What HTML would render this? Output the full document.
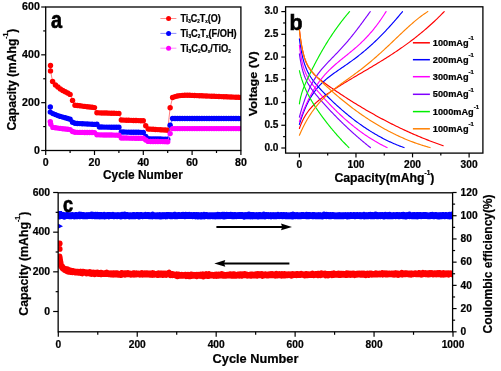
<!DOCTYPE html>
<html><head><meta charset="utf-8"><style>
html,body{margin:0;padding:0;background:#fff;}
svg{display:block;will-change:transform;}
text{font-family:"Liberation Sans",sans-serif;font-weight:bold;fill:#000;stroke:#000;stroke-width:0.22px;}
</style></head><body>
<svg width="501" height="371" viewBox="0 0 501 371">
<rect width="501" height="371" fill="#fff"/>
<line x1="41.2" y1="150.5" x2="45.7" y2="150.5" stroke="#000" stroke-width="1.2"/>
<text x="39.8" y="153.8" font-size="10.6" text-anchor="end" >0</text>
<line x1="43.2" y1="126.58" x2="45.7" y2="126.58" stroke="#000" stroke-width="1.2"/>
<line x1="41.2" y1="102.67" x2="45.7" y2="102.67" stroke="#000" stroke-width="1.2"/>
<text x="39.8" y="105.97" font-size="10.6" text-anchor="end" >200</text>
<line x1="43.2" y1="78.75" x2="45.7" y2="78.75" stroke="#000" stroke-width="1.2"/>
<line x1="41.2" y1="54.83" x2="45.7" y2="54.83" stroke="#000" stroke-width="1.2"/>
<text x="39.8" y="58.13" font-size="10.6" text-anchor="end" >400</text>
<line x1="43.2" y1="30.92" x2="45.7" y2="30.92" stroke="#000" stroke-width="1.2"/>
<line x1="41.2" y1="7" x2="45.7" y2="7" stroke="#000" stroke-width="1.2"/>
<text x="39.8" y="10.3" font-size="10.6" text-anchor="end" >600</text>
<line x1="45.7" y1="150.5" x2="45.7" y2="155" stroke="#000" stroke-width="1.2"/>
<text x="45.7" y="166.2" font-size="10.6" text-anchor="middle" >0</text>
<line x1="70.1" y1="150.5" x2="70.1" y2="153" stroke="#000" stroke-width="1.2"/>
<line x1="94.5" y1="150.5" x2="94.5" y2="155" stroke="#000" stroke-width="1.2"/>
<text x="94.5" y="166.2" font-size="10.6" text-anchor="middle" >20</text>
<line x1="118.9" y1="150.5" x2="118.9" y2="153" stroke="#000" stroke-width="1.2"/>
<line x1="143.3" y1="150.5" x2="143.3" y2="155" stroke="#000" stroke-width="1.2"/>
<text x="143.3" y="166.2" font-size="10.6" text-anchor="middle" >40</text>
<line x1="167.7" y1="150.5" x2="167.7" y2="153" stroke="#000" stroke-width="1.2"/>
<line x1="192.1" y1="150.5" x2="192.1" y2="155" stroke="#000" stroke-width="1.2"/>
<text x="192.1" y="166.2" font-size="10.6" text-anchor="middle" >60</text>
<line x1="216.5" y1="150.5" x2="216.5" y2="153" stroke="#000" stroke-width="1.2"/>
<line x1="240.9" y1="150.5" x2="240.9" y2="155" stroke="#000" stroke-width="1.2"/>
<text x="240.9" y="166.2" font-size="10.6" text-anchor="middle" >80</text>
<text x="142.9" y="179.4" font-size="12.2" text-anchor="middle" textLength="79.8" lengthAdjust="spacingAndGlyphs" >Cycle Number</text>
<text transform="translate(16.3,130.6) rotate(-90)" font-size="12" textLength="102" lengthAdjust="spacingAndGlyphs">Capacity (mAhg<tspan font-size="6.8" dy="-8">-1</tspan><tspan dy="8">)</tspan></text>
<text transform="translate(51.0,27.5) scale(0.81,0.95)" font-size="24.5" style="stroke-width:0.7px">a</text>
<defs><clipPath id="ca"><rect x="45.7" y="7" width="195.2" height="143.5"/></clipPath></defs><g clip-path="url(#ca)">
<polyline points="50.5,65.5 50.5,70.9 52.6,81.5 55.46,85 57.9,87 60.34,89 62.78,90.5 65.22,91.8 67.66,93 70.1,94.4 72.54,100.4 74.98,105.2 77.42,105.5 79.86,105.8 82.3,106.1 84.74,106.4 87.18,106.7 89.62,107 92.06,107.3 94.5,107.6 96.94,112.8 99.38,112.87 101.82,112.93 104.26,113 106.7,113.07 109.14,113.13 111.58,113.2 114.02,113.27 116.46,113.33 118.9,113.4 121.34,120 123.78,120.09 126.22,120.18 128.66,120.27 131.1,120.36 133.54,120.44 135.98,120.53 138.42,120.62 140.86,120.71 143.3,120.8 145.74,125.8 148.18,129 150.62,129.15 153.06,129.3 155.5,129.45 157.94,129.6 160.38,129.75 162.82,129.9 165.26,130.05 167.7,130.2 170.14,107.7 172.58,97.5 175.02,96.6 177.46,96 179.9,95.6 182.34,95.4 184.78,95.3 187.22,95.3 189.66,95.3 192.1,95.4 194.54,95.5 196.98,95.6 199.42,95.7 201.86,95.8 204.3,95.9 206.74,96 209.18,96.1 211.62,96.2 214.06,96.3 216.5,96.4 218.94,96.5 221.38,96.6 223.82,96.7 226.26,96.8 228.7,96.9 231.14,97 233.58,97.1 236.02,97.2 238.46,97.3 240.9,97.4" fill="none" stroke="#ff6060" stroke-width="0.8" stroke-linejoin="round" stroke-linecap="round" />
<circle cx="50.5" cy="65.5" r="2.7" fill="#ff0000"/>
<circle cx="50.5" cy="70.9" r="2.7" fill="#ff0000"/>
<circle cx="52.6" cy="81.5" r="2.7" fill="#ff0000"/>
<circle cx="55.46" cy="85" r="2.7" fill="#ff0000"/>
<circle cx="57.9" cy="87" r="2.7" fill="#ff0000"/>
<circle cx="60.34" cy="89" r="2.7" fill="#ff0000"/>
<circle cx="62.78" cy="90.5" r="2.7" fill="#ff0000"/>
<circle cx="65.22" cy="91.8" r="2.7" fill="#ff0000"/>
<circle cx="67.66" cy="93" r="2.7" fill="#ff0000"/>
<circle cx="70.1" cy="94.4" r="2.7" fill="#ff0000"/>
<circle cx="72.54" cy="100.4" r="2.7" fill="#ff0000"/>
<circle cx="74.98" cy="105.2" r="2.7" fill="#ff0000"/>
<circle cx="77.42" cy="105.5" r="2.7" fill="#ff0000"/>
<circle cx="79.86" cy="105.8" r="2.7" fill="#ff0000"/>
<circle cx="82.3" cy="106.1" r="2.7" fill="#ff0000"/>
<circle cx="84.74" cy="106.4" r="2.7" fill="#ff0000"/>
<circle cx="87.18" cy="106.7" r="2.7" fill="#ff0000"/>
<circle cx="89.62" cy="107" r="2.7" fill="#ff0000"/>
<circle cx="92.06" cy="107.3" r="2.7" fill="#ff0000"/>
<circle cx="94.5" cy="107.6" r="2.7" fill="#ff0000"/>
<circle cx="96.94" cy="112.8" r="2.7" fill="#ff0000"/>
<circle cx="99.38" cy="112.87" r="2.7" fill="#ff0000"/>
<circle cx="101.82" cy="112.93" r="2.7" fill="#ff0000"/>
<circle cx="104.26" cy="113" r="2.7" fill="#ff0000"/>
<circle cx="106.7" cy="113.07" r="2.7" fill="#ff0000"/>
<circle cx="109.14" cy="113.13" r="2.7" fill="#ff0000"/>
<circle cx="111.58" cy="113.2" r="2.7" fill="#ff0000"/>
<circle cx="114.02" cy="113.27" r="2.7" fill="#ff0000"/>
<circle cx="116.46" cy="113.33" r="2.7" fill="#ff0000"/>
<circle cx="118.9" cy="113.4" r="2.7" fill="#ff0000"/>
<circle cx="121.34" cy="120" r="2.7" fill="#ff0000"/>
<circle cx="123.78" cy="120.09" r="2.7" fill="#ff0000"/>
<circle cx="126.22" cy="120.18" r="2.7" fill="#ff0000"/>
<circle cx="128.66" cy="120.27" r="2.7" fill="#ff0000"/>
<circle cx="131.1" cy="120.36" r="2.7" fill="#ff0000"/>
<circle cx="133.54" cy="120.44" r="2.7" fill="#ff0000"/>
<circle cx="135.98" cy="120.53" r="2.7" fill="#ff0000"/>
<circle cx="138.42" cy="120.62" r="2.7" fill="#ff0000"/>
<circle cx="140.86" cy="120.71" r="2.7" fill="#ff0000"/>
<circle cx="143.3" cy="120.8" r="2.7" fill="#ff0000"/>
<circle cx="145.74" cy="125.8" r="2.7" fill="#ff0000"/>
<circle cx="148.18" cy="129" r="2.7" fill="#ff0000"/>
<circle cx="150.62" cy="129.15" r="2.7" fill="#ff0000"/>
<circle cx="153.06" cy="129.3" r="2.7" fill="#ff0000"/>
<circle cx="155.5" cy="129.45" r="2.7" fill="#ff0000"/>
<circle cx="157.94" cy="129.6" r="2.7" fill="#ff0000"/>
<circle cx="160.38" cy="129.75" r="2.7" fill="#ff0000"/>
<circle cx="162.82" cy="129.9" r="2.7" fill="#ff0000"/>
<circle cx="165.26" cy="130.05" r="2.7" fill="#ff0000"/>
<circle cx="167.7" cy="130.2" r="2.7" fill="#ff0000"/>
<circle cx="170.14" cy="107.7" r="2.7" fill="#ff0000"/>
<circle cx="172.58" cy="97.5" r="2.7" fill="#ff0000"/>
<circle cx="175.02" cy="96.6" r="2.7" fill="#ff0000"/>
<circle cx="177.46" cy="96" r="2.7" fill="#ff0000"/>
<circle cx="179.9" cy="95.6" r="2.7" fill="#ff0000"/>
<circle cx="182.34" cy="95.4" r="2.7" fill="#ff0000"/>
<circle cx="184.78" cy="95.3" r="2.7" fill="#ff0000"/>
<circle cx="187.22" cy="95.3" r="2.7" fill="#ff0000"/>
<circle cx="189.66" cy="95.3" r="2.7" fill="#ff0000"/>
<circle cx="192.1" cy="95.4" r="2.7" fill="#ff0000"/>
<circle cx="194.54" cy="95.5" r="2.7" fill="#ff0000"/>
<circle cx="196.98" cy="95.6" r="2.7" fill="#ff0000"/>
<circle cx="199.42" cy="95.7" r="2.7" fill="#ff0000"/>
<circle cx="201.86" cy="95.8" r="2.7" fill="#ff0000"/>
<circle cx="204.3" cy="95.9" r="2.7" fill="#ff0000"/>
<circle cx="206.74" cy="96" r="2.7" fill="#ff0000"/>
<circle cx="209.18" cy="96.1" r="2.7" fill="#ff0000"/>
<circle cx="211.62" cy="96.2" r="2.7" fill="#ff0000"/>
<circle cx="214.06" cy="96.3" r="2.7" fill="#ff0000"/>
<circle cx="216.5" cy="96.4" r="2.7" fill="#ff0000"/>
<circle cx="218.94" cy="96.5" r="2.7" fill="#ff0000"/>
<circle cx="221.38" cy="96.6" r="2.7" fill="#ff0000"/>
<circle cx="223.82" cy="96.7" r="2.7" fill="#ff0000"/>
<circle cx="226.26" cy="96.8" r="2.7" fill="#ff0000"/>
<circle cx="228.7" cy="96.9" r="2.7" fill="#ff0000"/>
<circle cx="231.14" cy="97" r="2.7" fill="#ff0000"/>
<circle cx="233.58" cy="97.1" r="2.7" fill="#ff0000"/>
<circle cx="236.02" cy="97.2" r="2.7" fill="#ff0000"/>
<circle cx="238.46" cy="97.3" r="2.7" fill="#ff0000"/>
<circle cx="240.9" cy="97.4" r="2.7" fill="#ff0000"/>
<polyline points="50.3,107 50.3,112.1 52.9,113.6 55.46,114.6 57.9,115.6 60.34,116.4 62.78,117.1 65.22,117.8 67.66,118.5 70.1,119.2 72.54,122.3 74.98,123.3 77.42,123.44 79.86,123.58 82.3,123.71 84.74,123.85 87.18,123.99 89.62,124.12 92.06,124.26 94.5,124.4 96.94,124.3 99.38,127 101.82,127.04 104.26,127.08 106.7,127.11 109.14,127.15 111.58,127.19 114.02,127.22 116.46,127.26 118.9,127.3 121.34,132 123.78,132.04 126.22,132.09 128.66,132.13 131.1,132.18 133.54,132.22 135.98,132.27 138.42,132.31 140.86,132.36 143.3,132.4 145.74,136.5 148.18,138.8 150.62,138.85 153.06,138.9 155.5,138.95 157.94,139 160.38,139.05 162.82,139.1 165.26,139.15 167.7,139.2 170.14,125.3 172.58,118.5 175.02,118.5 177.46,118.5 179.9,118.5 182.34,118.5 184.78,118.5 187.22,118.5 189.66,118.5 192.1,118.5 194.54,118.5 196.98,118.5 199.42,118.5 201.86,118.5 204.3,118.5 206.74,118.5 209.18,118.5 211.62,118.5 214.06,118.5 216.5,118.5 218.94,118.5 221.38,118.5 223.82,118.5 226.26,118.5 228.7,118.5 231.14,118.5 233.58,118.5 236.02,118.5 238.46,118.5 240.9,118.5" fill="none" stroke="#6060ff" stroke-width="0.8" stroke-linejoin="round" stroke-linecap="round" />
<circle cx="50.3" cy="107" r="2.7" fill="#0000ff"/>
<circle cx="50.3" cy="112.1" r="2.7" fill="#0000ff"/>
<circle cx="52.9" cy="113.6" r="2.7" fill="#0000ff"/>
<circle cx="55.46" cy="114.6" r="2.7" fill="#0000ff"/>
<circle cx="57.9" cy="115.6" r="2.7" fill="#0000ff"/>
<circle cx="60.34" cy="116.4" r="2.7" fill="#0000ff"/>
<circle cx="62.78" cy="117.1" r="2.7" fill="#0000ff"/>
<circle cx="65.22" cy="117.8" r="2.7" fill="#0000ff"/>
<circle cx="67.66" cy="118.5" r="2.7" fill="#0000ff"/>
<circle cx="70.1" cy="119.2" r="2.7" fill="#0000ff"/>
<circle cx="72.54" cy="122.3" r="2.7" fill="#0000ff"/>
<circle cx="74.98" cy="123.3" r="2.7" fill="#0000ff"/>
<circle cx="77.42" cy="123.44" r="2.7" fill="#0000ff"/>
<circle cx="79.86" cy="123.58" r="2.7" fill="#0000ff"/>
<circle cx="82.3" cy="123.71" r="2.7" fill="#0000ff"/>
<circle cx="84.74" cy="123.85" r="2.7" fill="#0000ff"/>
<circle cx="87.18" cy="123.99" r="2.7" fill="#0000ff"/>
<circle cx="89.62" cy="124.12" r="2.7" fill="#0000ff"/>
<circle cx="92.06" cy="124.26" r="2.7" fill="#0000ff"/>
<circle cx="94.5" cy="124.4" r="2.7" fill="#0000ff"/>
<circle cx="96.94" cy="124.3" r="2.7" fill="#0000ff"/>
<circle cx="99.38" cy="127" r="2.7" fill="#0000ff"/>
<circle cx="101.82" cy="127.04" r="2.7" fill="#0000ff"/>
<circle cx="104.26" cy="127.08" r="2.7" fill="#0000ff"/>
<circle cx="106.7" cy="127.11" r="2.7" fill="#0000ff"/>
<circle cx="109.14" cy="127.15" r="2.7" fill="#0000ff"/>
<circle cx="111.58" cy="127.19" r="2.7" fill="#0000ff"/>
<circle cx="114.02" cy="127.22" r="2.7" fill="#0000ff"/>
<circle cx="116.46" cy="127.26" r="2.7" fill="#0000ff"/>
<circle cx="118.9" cy="127.3" r="2.7" fill="#0000ff"/>
<circle cx="121.34" cy="132" r="2.7" fill="#0000ff"/>
<circle cx="123.78" cy="132.04" r="2.7" fill="#0000ff"/>
<circle cx="126.22" cy="132.09" r="2.7" fill="#0000ff"/>
<circle cx="128.66" cy="132.13" r="2.7" fill="#0000ff"/>
<circle cx="131.1" cy="132.18" r="2.7" fill="#0000ff"/>
<circle cx="133.54" cy="132.22" r="2.7" fill="#0000ff"/>
<circle cx="135.98" cy="132.27" r="2.7" fill="#0000ff"/>
<circle cx="138.42" cy="132.31" r="2.7" fill="#0000ff"/>
<circle cx="140.86" cy="132.36" r="2.7" fill="#0000ff"/>
<circle cx="143.3" cy="132.4" r="2.7" fill="#0000ff"/>
<circle cx="145.74" cy="136.5" r="2.7" fill="#0000ff"/>
<circle cx="148.18" cy="138.8" r="2.7" fill="#0000ff"/>
<circle cx="150.62" cy="138.85" r="2.7" fill="#0000ff"/>
<circle cx="153.06" cy="138.9" r="2.7" fill="#0000ff"/>
<circle cx="155.5" cy="138.95" r="2.7" fill="#0000ff"/>
<circle cx="157.94" cy="139" r="2.7" fill="#0000ff"/>
<circle cx="160.38" cy="139.05" r="2.7" fill="#0000ff"/>
<circle cx="162.82" cy="139.1" r="2.7" fill="#0000ff"/>
<circle cx="165.26" cy="139.15" r="2.7" fill="#0000ff"/>
<circle cx="167.7" cy="139.2" r="2.7" fill="#0000ff"/>
<circle cx="170.14" cy="125.3" r="2.7" fill="#0000ff"/>
<circle cx="172.58" cy="118.5" r="2.7" fill="#0000ff"/>
<circle cx="175.02" cy="118.5" r="2.7" fill="#0000ff"/>
<circle cx="177.46" cy="118.5" r="2.7" fill="#0000ff"/>
<circle cx="179.9" cy="118.5" r="2.7" fill="#0000ff"/>
<circle cx="182.34" cy="118.5" r="2.7" fill="#0000ff"/>
<circle cx="184.78" cy="118.5" r="2.7" fill="#0000ff"/>
<circle cx="187.22" cy="118.5" r="2.7" fill="#0000ff"/>
<circle cx="189.66" cy="118.5" r="2.7" fill="#0000ff"/>
<circle cx="192.1" cy="118.5" r="2.7" fill="#0000ff"/>
<circle cx="194.54" cy="118.5" r="2.7" fill="#0000ff"/>
<circle cx="196.98" cy="118.5" r="2.7" fill="#0000ff"/>
<circle cx="199.42" cy="118.5" r="2.7" fill="#0000ff"/>
<circle cx="201.86" cy="118.5" r="2.7" fill="#0000ff"/>
<circle cx="204.3" cy="118.5" r="2.7" fill="#0000ff"/>
<circle cx="206.74" cy="118.5" r="2.7" fill="#0000ff"/>
<circle cx="209.18" cy="118.5" r="2.7" fill="#0000ff"/>
<circle cx="211.62" cy="118.5" r="2.7" fill="#0000ff"/>
<circle cx="214.06" cy="118.5" r="2.7" fill="#0000ff"/>
<circle cx="216.5" cy="118.5" r="2.7" fill="#0000ff"/>
<circle cx="218.94" cy="118.5" r="2.7" fill="#0000ff"/>
<circle cx="221.38" cy="118.5" r="2.7" fill="#0000ff"/>
<circle cx="223.82" cy="118.5" r="2.7" fill="#0000ff"/>
<circle cx="226.26" cy="118.5" r="2.7" fill="#0000ff"/>
<circle cx="228.7" cy="118.5" r="2.7" fill="#0000ff"/>
<circle cx="231.14" cy="118.5" r="2.7" fill="#0000ff"/>
<circle cx="233.58" cy="118.5" r="2.7" fill="#0000ff"/>
<circle cx="236.02" cy="118.5" r="2.7" fill="#0000ff"/>
<circle cx="238.46" cy="118.5" r="2.7" fill="#0000ff"/>
<circle cx="240.9" cy="118.5" r="2.7" fill="#0000ff"/>
<polyline points="50.3,121.6 50.8,124.3 52.9,127.4 55.46,127.8 57.9,128.1 60.34,128.4 62.78,128.7 65.22,129 67.66,129.3 70.1,129.6 72.54,131.5 74.98,132.3 77.42,132.34 79.86,132.38 82.3,132.41 84.74,132.45 87.18,132.49 89.62,132.53 92.06,132.56 94.5,132.6 96.94,134.8 99.38,134.84 101.82,134.89 104.26,134.93 106.7,134.98 109.14,135.02 111.58,135.07 114.02,135.11 116.46,135.16 118.9,135.2 121.34,138 123.78,138.03 126.22,138.07 128.66,138.1 131.1,138.13 133.54,138.17 135.98,138.2 138.42,138.23 140.86,138.27 143.3,138.3 145.74,140 148.18,141.4 150.62,141.44 153.06,141.47 155.5,141.51 157.94,141.55 160.38,141.59 162.82,141.62 165.26,141.66 167.7,141.7 170.14,133.6 172.58,128.6 175.02,128.6 177.46,128.6 179.9,128.6 182.34,128.6 184.78,128.6 187.22,128.6 189.66,128.6 192.1,128.6 194.54,128.6 196.98,128.6 199.42,128.6 201.86,128.6 204.3,128.6 206.74,128.6 209.18,128.6 211.62,128.6 214.06,128.6 216.5,128.6 218.94,128.6 221.38,128.6 223.82,128.6 226.26,128.6 228.7,128.6 231.14,128.6 233.58,128.6 236.02,128.6 238.46,128.6 240.9,128.6" fill="none" stroke="#ff80ff" stroke-width="0.8" stroke-linejoin="round" stroke-linecap="round" />
<circle cx="50.3" cy="121.6" r="2.7" fill="#ff00ff"/>
<circle cx="50.8" cy="124.3" r="2.7" fill="#ff00ff"/>
<circle cx="52.9" cy="127.4" r="2.7" fill="#ff00ff"/>
<circle cx="55.46" cy="127.8" r="2.7" fill="#ff00ff"/>
<circle cx="57.9" cy="128.1" r="2.7" fill="#ff00ff"/>
<circle cx="60.34" cy="128.4" r="2.7" fill="#ff00ff"/>
<circle cx="62.78" cy="128.7" r="2.7" fill="#ff00ff"/>
<circle cx="65.22" cy="129" r="2.7" fill="#ff00ff"/>
<circle cx="67.66" cy="129.3" r="2.7" fill="#ff00ff"/>
<circle cx="70.1" cy="129.6" r="2.7" fill="#ff00ff"/>
<circle cx="72.54" cy="131.5" r="2.7" fill="#ff00ff"/>
<circle cx="74.98" cy="132.3" r="2.7" fill="#ff00ff"/>
<circle cx="77.42" cy="132.34" r="2.7" fill="#ff00ff"/>
<circle cx="79.86" cy="132.38" r="2.7" fill="#ff00ff"/>
<circle cx="82.3" cy="132.41" r="2.7" fill="#ff00ff"/>
<circle cx="84.74" cy="132.45" r="2.7" fill="#ff00ff"/>
<circle cx="87.18" cy="132.49" r="2.7" fill="#ff00ff"/>
<circle cx="89.62" cy="132.53" r="2.7" fill="#ff00ff"/>
<circle cx="92.06" cy="132.56" r="2.7" fill="#ff00ff"/>
<circle cx="94.5" cy="132.6" r="2.7" fill="#ff00ff"/>
<circle cx="96.94" cy="134.8" r="2.7" fill="#ff00ff"/>
<circle cx="99.38" cy="134.84" r="2.7" fill="#ff00ff"/>
<circle cx="101.82" cy="134.89" r="2.7" fill="#ff00ff"/>
<circle cx="104.26" cy="134.93" r="2.7" fill="#ff00ff"/>
<circle cx="106.7" cy="134.98" r="2.7" fill="#ff00ff"/>
<circle cx="109.14" cy="135.02" r="2.7" fill="#ff00ff"/>
<circle cx="111.58" cy="135.07" r="2.7" fill="#ff00ff"/>
<circle cx="114.02" cy="135.11" r="2.7" fill="#ff00ff"/>
<circle cx="116.46" cy="135.16" r="2.7" fill="#ff00ff"/>
<circle cx="118.9" cy="135.2" r="2.7" fill="#ff00ff"/>
<circle cx="121.34" cy="138" r="2.7" fill="#ff00ff"/>
<circle cx="123.78" cy="138.03" r="2.7" fill="#ff00ff"/>
<circle cx="126.22" cy="138.07" r="2.7" fill="#ff00ff"/>
<circle cx="128.66" cy="138.1" r="2.7" fill="#ff00ff"/>
<circle cx="131.1" cy="138.13" r="2.7" fill="#ff00ff"/>
<circle cx="133.54" cy="138.17" r="2.7" fill="#ff00ff"/>
<circle cx="135.98" cy="138.2" r="2.7" fill="#ff00ff"/>
<circle cx="138.42" cy="138.23" r="2.7" fill="#ff00ff"/>
<circle cx="140.86" cy="138.27" r="2.7" fill="#ff00ff"/>
<circle cx="143.3" cy="138.3" r="2.7" fill="#ff00ff"/>
<circle cx="145.74" cy="140" r="2.7" fill="#ff00ff"/>
<circle cx="148.18" cy="141.4" r="2.7" fill="#ff00ff"/>
<circle cx="150.62" cy="141.44" r="2.7" fill="#ff00ff"/>
<circle cx="153.06" cy="141.47" r="2.7" fill="#ff00ff"/>
<circle cx="155.5" cy="141.51" r="2.7" fill="#ff00ff"/>
<circle cx="157.94" cy="141.55" r="2.7" fill="#ff00ff"/>
<circle cx="160.38" cy="141.59" r="2.7" fill="#ff00ff"/>
<circle cx="162.82" cy="141.62" r="2.7" fill="#ff00ff"/>
<circle cx="165.26" cy="141.66" r="2.7" fill="#ff00ff"/>
<circle cx="167.7" cy="141.7" r="2.7" fill="#ff00ff"/>
<circle cx="170.14" cy="133.6" r="2.7" fill="#ff00ff"/>
<circle cx="172.58" cy="128.6" r="2.7" fill="#ff00ff"/>
<circle cx="175.02" cy="128.6" r="2.7" fill="#ff00ff"/>
<circle cx="177.46" cy="128.6" r="2.7" fill="#ff00ff"/>
<circle cx="179.9" cy="128.6" r="2.7" fill="#ff00ff"/>
<circle cx="182.34" cy="128.6" r="2.7" fill="#ff00ff"/>
<circle cx="184.78" cy="128.6" r="2.7" fill="#ff00ff"/>
<circle cx="187.22" cy="128.6" r="2.7" fill="#ff00ff"/>
<circle cx="189.66" cy="128.6" r="2.7" fill="#ff00ff"/>
<circle cx="192.1" cy="128.6" r="2.7" fill="#ff00ff"/>
<circle cx="194.54" cy="128.6" r="2.7" fill="#ff00ff"/>
<circle cx="196.98" cy="128.6" r="2.7" fill="#ff00ff"/>
<circle cx="199.42" cy="128.6" r="2.7" fill="#ff00ff"/>
<circle cx="201.86" cy="128.6" r="2.7" fill="#ff00ff"/>
<circle cx="204.3" cy="128.6" r="2.7" fill="#ff00ff"/>
<circle cx="206.74" cy="128.6" r="2.7" fill="#ff00ff"/>
<circle cx="209.18" cy="128.6" r="2.7" fill="#ff00ff"/>
<circle cx="211.62" cy="128.6" r="2.7" fill="#ff00ff"/>
<circle cx="214.06" cy="128.6" r="2.7" fill="#ff00ff"/>
<circle cx="216.5" cy="128.6" r="2.7" fill="#ff00ff"/>
<circle cx="218.94" cy="128.6" r="2.7" fill="#ff00ff"/>
<circle cx="221.38" cy="128.6" r="2.7" fill="#ff00ff"/>
<circle cx="223.82" cy="128.6" r="2.7" fill="#ff00ff"/>
<circle cx="226.26" cy="128.6" r="2.7" fill="#ff00ff"/>
<circle cx="228.7" cy="128.6" r="2.7" fill="#ff00ff"/>
<circle cx="231.14" cy="128.6" r="2.7" fill="#ff00ff"/>
<circle cx="233.58" cy="128.6" r="2.7" fill="#ff00ff"/>
<circle cx="236.02" cy="128.6" r="2.7" fill="#ff00ff"/>
<circle cx="238.46" cy="128.6" r="2.7" fill="#ff00ff"/>
<circle cx="240.9" cy="128.6" r="2.7" fill="#ff00ff"/>
</g>
<rect x="45.7" y="7.0" width="195.2" height="143.5" fill="none" stroke="#000" stroke-width="1.3"/>
<line x1="160.4" y1="18.5" x2="176.4" y2="18.5" stroke="#ff8080" stroke-width="0.9"/>
<circle cx="168.6" cy="18.5" r="2.5" fill="#ff0000"/>
<text x="180.4" y="22.1" font-size="10" text-anchor="start" textLength="40.5" lengthAdjust="spacingAndGlyphs" >Ti<tspan font-size="5" dy="1.0">3</tspan><tspan dy="-1.0">C</tspan><tspan font-size="5" dy="1.0">2</tspan><tspan dy="-1.0">T</tspan><tspan font-size="5" dy="1.0">x</tspan><tspan dy="-1.0">(O)</tspan></text>
<line x1="160.4" y1="33.4" x2="176.4" y2="33.4" stroke="#8080ff" stroke-width="0.9"/>
<circle cx="168.6" cy="33.4" r="2.5" fill="#0000ff"/>
<text x="180.4" y="37" font-size="10" text-anchor="start" textLength="56.3" lengthAdjust="spacingAndGlyphs" >Ti<tspan font-size="5" dy="1.0">3</tspan><tspan dy="-1.0">C</tspan><tspan font-size="5" dy="1.0">2</tspan><tspan dy="-1.0">T</tspan><tspan font-size="5" dy="1.0">x</tspan><tspan dy="-1.0">(F/OH)</tspan></text>
<line x1="160.4" y1="48.2" x2="176.4" y2="48.2" stroke="#ff80ff" stroke-width="0.9"/>
<circle cx="168.6" cy="48.2" r="2.5" fill="#ff00ff"/>
<text x="180.4" y="51.8" font-size="10" text-anchor="start" textLength="50.5" lengthAdjust="spacingAndGlyphs" >Ti<tspan font-size="5" dy="1.0">3</tspan><tspan dy="-1.0">C</tspan><tspan font-size="5" dy="1.0">2</tspan><tspan dy="-1.0">O</tspan><tspan font-size="5" dy="1.0">x</tspan><tspan dy="-1.0">/TiO</tspan><tspan font-size="5" dy="1.0">2</tspan></text>
<rect x="285.6" y="6.8" width="197.3" height="146.3" fill="none" stroke="#000" stroke-width="1.3"/>
<line x1="281.3" y1="148" x2="285.6" y2="148" stroke="#000" stroke-width="1.2"/>
<text x="278.5" y="150.6" font-size="10.1" text-anchor="end" >0.0</text>
<line x1="283.1" y1="136.63" x2="285.6" y2="136.63" stroke="#000" stroke-width="1.2"/>
<line x1="281.3" y1="125.27" x2="285.6" y2="125.27" stroke="#000" stroke-width="1.2"/>
<text x="278.5" y="127.86" font-size="10.1" text-anchor="end" >0.5</text>
<line x1="283.1" y1="113.9" x2="285.6" y2="113.9" stroke="#000" stroke-width="1.2"/>
<line x1="281.3" y1="102.53" x2="285.6" y2="102.53" stroke="#000" stroke-width="1.2"/>
<text x="278.5" y="105.13" font-size="10.1" text-anchor="end" >1.0</text>
<line x1="283.1" y1="91.16" x2="285.6" y2="91.16" stroke="#000" stroke-width="1.2"/>
<line x1="281.3" y1="79.8" x2="285.6" y2="79.8" stroke="#000" stroke-width="1.2"/>
<text x="278.5" y="82.39" font-size="10.1" text-anchor="end" >1.5</text>
<line x1="283.1" y1="68.43" x2="285.6" y2="68.43" stroke="#000" stroke-width="1.2"/>
<line x1="281.3" y1="57.06" x2="285.6" y2="57.06" stroke="#000" stroke-width="1.2"/>
<text x="278.5" y="59.66" font-size="10.1" text-anchor="end" >2.0</text>
<line x1="283.1" y1="45.69" x2="285.6" y2="45.69" stroke="#000" stroke-width="1.2"/>
<line x1="281.3" y1="34.33" x2="285.6" y2="34.33" stroke="#000" stroke-width="1.2"/>
<text x="278.5" y="36.93" font-size="10.1" text-anchor="end" >2.5</text>
<line x1="283.1" y1="22.96" x2="285.6" y2="22.96" stroke="#000" stroke-width="1.2"/>
<line x1="281.3" y1="11.59" x2="285.6" y2="11.59" stroke="#000" stroke-width="1.2"/>
<text x="278.5" y="14.19" font-size="10.1" text-anchor="end" >3.0</text>
<line x1="299.4" y1="153.1" x2="299.4" y2="157.4" stroke="#000" stroke-width="1.2"/>
<text x="299.4" y="168.4" font-size="10.2" text-anchor="middle" >0</text>
<line x1="327.69" y1="153.1" x2="327.69" y2="155.6" stroke="#000" stroke-width="1.2"/>
<line x1="355.97" y1="153.1" x2="355.97" y2="157.4" stroke="#000" stroke-width="1.2"/>
<text x="355.97" y="168.4" font-size="10.2" text-anchor="middle" >100</text>
<line x1="384.25" y1="153.1" x2="384.25" y2="155.6" stroke="#000" stroke-width="1.2"/>
<line x1="412.54" y1="153.1" x2="412.54" y2="157.4" stroke="#000" stroke-width="1.2"/>
<text x="412.54" y="168.4" font-size="10.2" text-anchor="middle" >200</text>
<line x1="440.82" y1="153.1" x2="440.82" y2="155.6" stroke="#000" stroke-width="1.2"/>
<line x1="469.11" y1="153.1" x2="469.11" y2="157.4" stroke="#000" stroke-width="1.2"/>
<text x="469.11" y="168.4" font-size="10.2" text-anchor="middle" >300</text>
<text x="334.4" y="182.1" font-size="12.6" textLength="100" lengthAdjust="spacingAndGlyphs">Capacity(mAhg<tspan font-size="6.6" dy="-7">-1</tspan><tspan dy="7">)</tspan></text>
<text transform="translate(257.2,116.3) rotate(-90)" font-size="11.8" textLength="65" lengthAdjust="spacingAndGlyphs">Voltage (V)</text>
<text transform="translate(289.5,29.6) scale(0.94,1)" font-size="22.6" style="stroke-width:0.7px">b</text>
<polyline points="299.4,29.78 299.65,31.91 299.9,33.94 300.14,35.86 300.39,37.69 300.64,39.42 300.89,41.07 301.14,42.64 301.38,44.12 301.63,45.54 301.88,46.88 302.13,48.16 302.38,49.38 302.62,50.54 302.87,51.64 303.12,52.7 303.37,53.7 303.61,54.66 303.86,55.58 304.11,56.45 304.36,57.29 304.61,58.09 304.85,58.85 305.1,59.59 305.35,60.29 305.6,60.96 305.85,61.6 306.09,62.22 306.34,62.82 306.59,63.39 307.97,66.21 309.35,68.54 310.73,70.51 312.11,72.21 313.49,73.73 314.87,75.11 316.25,76.38 317.63,77.58 319.01,78.72 320.39,79.82 321.77,80.89 323.15,81.93 324.53,82.96 325.91,83.96 327.29,84.96 328.67,85.94 330.05,86.91 331.43,87.87 332.81,88.83 334.19,89.78 335.57,90.72 336.95,91.65 338.33,92.58 339.71,93.5 341.09,94.42 342.47,95.33 343.85,96.23 345.23,97.13 346.61,98.02 347.99,98.91 349.37,99.79 350.75,100.66 352.13,101.53 353.51,102.39 354.89,103.25 356.27,104.1 357.65,104.94 359.03,105.78 360.41,106.61 361.79,107.44 363.17,108.26 364.55,109.07 365.93,109.88 367.31,110.68 368.69,111.48 370.07,112.27 371.45,113.06 372.83,113.84 374.21,114.61 375.59,115.38 376.97,116.14 378.35,116.89 379.73,117.64 381.11,118.39 382.48,119.12 383.86,119.85 385.24,120.58 386.62,121.3 388,122.01 389.38,122.72 390.76,123.42 392.14,124.12 393.52,124.81 394.9,125.5 396.28,126.17 397.66,126.85 399.04,127.51 400.42,128.17 401.8,128.83 403.18,129.48 404.56,130.12 405.94,130.76 407.32,131.39 408.7,132.01 410.08,132.63 411.46,133.25 412.84,133.85 414.22,134.46 415.6,135.05 416.98,135.64 418.36,136.23 419.74,136.8 421.12,137.38 422.5,137.94 423.88,138.5 425.26,139.06 426.64,139.6 428.02,140.15 429.4,140.68 430.78,141.21 432.16,141.74 433.54,142.26 434.92,142.77 436.3,143.28 437.68,143.78 439.06,144.27 440.44,144.76 441.82,145.25 443.2,145.72" fill="none" stroke="#ff0000" stroke-width="1.15" stroke-linejoin="round" stroke-linecap="round" />
<polyline points="299.4,128.45 299.65,127.74 299.9,127.06 300.15,126.39 300.4,125.74 300.65,125.1 300.9,124.48 301.15,123.88 301.4,123.29 301.65,122.71 301.9,122.15 302.15,121.59 302.4,121.06 302.65,120.53 302.9,120.02 303.15,119.51 303.4,119.02 303.64,118.54 303.89,118.07 304.14,117.61 304.39,117.16 304.64,116.72 304.89,116.28 305.14,115.86 305.39,115.44 305.64,115.04 305.89,114.64 306.14,114.24 306.39,113.86 306.64,113.48 308.03,111.5 309.42,109.69 310.81,108.03 312.2,106.49 313.59,105.06 314.98,103.71 316.37,102.44 317.76,101.22 319.15,100.06 320.54,98.94 321.93,97.86 323.32,96.82 324.71,95.8 326.1,94.8 327.49,93.83 328.88,92.87 330.27,91.93 331.66,91.01 333.04,90.09 334.43,89.19 335.82,88.3 337.21,87.42 338.6,86.55 339.99,85.69 341.38,84.83 342.77,83.97 344.16,83.13 345.55,82.29 346.94,81.45 348.33,80.62 349.72,79.79 351.11,78.96 352.5,78.13 353.89,77.31 355.28,76.49 356.67,75.67 358.06,74.86 359.45,74.04 360.84,73.22 362.23,72.4 363.62,71.59 365.01,70.77 366.4,69.95 367.79,69.13 369.18,68.31 370.57,67.48 371.96,66.65 373.35,65.82 374.74,64.99 376.12,64.15 377.51,63.31 378.9,62.47 380.29,61.62 381.68,60.76 383.07,59.9 384.46,59.04 385.85,58.16 387.24,57.29 388.63,56.4 390.02,55.51 391.41,54.61 392.8,53.7 394.19,52.79 395.58,51.87 396.97,50.93 398.36,49.99 399.75,49.04 401.14,48.08 402.53,47.11 403.92,46.13 405.31,45.14 406.7,44.14 408.09,43.12 409.48,42.09 410.87,41.06 412.26,40.01 413.65,38.94 415.04,37.86 416.43,36.77 417.82,35.67 419.2,34.55 420.59,33.42 421.98,32.27 423.37,31.11 424.76,29.93 426.15,28.73 427.54,27.52 428.93,26.29 430.32,25.05 431.71,23.78 433.1,22.5 434.49,21.21 435.88,19.89 437.27,18.56 438.66,17.2 440.05,15.83 441.44,14.43 442.83,13.02 444.22,11.59" fill="none" stroke="#ff0000" stroke-width="1.15" stroke-linejoin="round" stroke-linecap="round" />
<polyline points="299.4,38.87 299.58,40.23 299.76,41.54 299.94,42.8 300.12,44.02 300.3,45.19 300.48,46.32 300.66,47.42 300.84,48.47 301.02,49.49 301.2,50.48 301.38,51.43 301.57,52.35 301.75,53.24 301.93,54.11 302.11,54.94 302.29,55.75 302.47,56.53 302.65,57.29 302.83,58.02 303.01,58.73 303.19,59.42 303.37,60.09 303.55,60.74 303.73,61.37 303.91,61.99 304.09,62.58 304.27,63.16 304.45,63.73 304.63,64.27 305.64,67.07 306.64,69.52 307.65,71.68 308.65,73.62 309.65,75.38 310.66,77 311.66,78.5 312.67,79.92 313.67,81.26 314.68,82.55 315.68,83.79 316.68,84.99 317.69,86.15 318.69,87.29 319.7,88.41 320.7,89.5 321.71,90.58 322.71,91.64 323.71,92.69 324.72,93.73 325.72,94.75 326.73,95.76 327.73,96.76 328.73,97.75 329.74,98.73 330.74,99.71 331.75,100.67 332.75,101.62 333.76,102.57 334.76,103.5 335.76,104.43 336.77,105.35 337.77,106.26 338.78,107.16 339.78,108.05 340.79,108.93 341.79,109.81 342.79,110.68 343.8,111.53 344.8,112.38 345.81,113.23 346.81,114.06 347.82,114.88 348.82,115.7 349.82,116.51 350.83,117.3 351.83,118.1 352.84,118.88 353.84,119.65 354.85,120.42 355.85,121.17 356.85,121.92 357.86,122.66 358.86,123.39 359.87,124.11 360.87,124.83 361.88,125.53 362.88,126.23 363.88,126.92 364.89,127.6 365.89,128.27 366.9,128.94 367.9,129.59 368.91,130.24 369.91,130.88 370.91,131.51 371.92,132.13 372.92,132.74 373.93,133.35 374.93,133.94 375.94,134.53 376.94,135.11 377.94,135.68 378.95,136.24 379.95,136.79 380.96,137.34 381.96,137.88 382.97,138.4 383.97,138.92 384.97,139.44 385.98,139.94 386.98,140.43 387.99,140.92 388.99,141.4 389.99,141.87 391,142.33 392,142.78 393.01,143.22 394.01,143.66 395.02,144.08 396.02,144.5 397.02,144.91 398.03,145.31 399.03,145.71 400.04,146.09 401.04,146.47 402.05,146.83 403.05,147.19 404.05,147.54" fill="none" stroke="#0000ff" stroke-width="1.15" stroke-linejoin="round" stroke-linecap="round" />
<polyline points="299.4,124.36 299.58,123.77 299.76,123.2 299.93,122.63 300.11,122.06 300.29,121.5 300.47,120.95 300.64,120.41 300.82,119.87 301,119.33 301.18,118.81 301.36,118.28 301.53,117.77 301.71,117.26 301.89,116.75 302.07,116.25 302.24,115.76 302.42,115.27 302.6,114.79 302.78,114.31 302.96,113.83 303.13,113.37 303.31,112.9 303.49,112.45 303.67,111.99 303.85,111.54 304.02,111.1 304.2,110.66 304.38,110.23 304.56,109.8 305.55,107.49 306.54,105.32 307.53,103.27 308.51,101.33 309.5,99.5 310.49,97.77 311.48,96.14 312.47,94.59 313.46,93.12 314.45,91.73 315.44,90.4 316.43,89.14 317.42,87.94 318.41,86.79 319.4,85.7 320.39,84.65 321.38,83.64 322.37,82.67 323.36,81.74 324.35,80.84 325.34,79.96 326.33,79.12 327.32,78.3 328.31,77.5 329.3,76.72 330.29,75.96 331.28,75.22 332.27,74.49 333.25,73.77 334.24,73.06 335.23,72.36 336.22,71.66 337.21,70.97 338.2,70.29 339.19,69.61 340.18,68.93 341.17,68.25 342.16,67.57 343.15,66.9 344.14,66.22 345.13,65.53 346.12,64.85 347.11,64.16 348.1,63.47 349.09,62.77 350.08,62.06 351.07,61.35 352.06,60.64 353.05,59.91 354.04,59.18 355.03,58.44 356.02,57.7 357.01,56.94 357.99,56.18 358.98,55.41 359.97,54.63 360.96,53.83 361.95,53.03 362.94,52.22 363.93,51.4 364.92,50.58 365.91,49.74 366.9,48.89 367.89,48.03 368.88,47.16 369.87,46.27 370.86,45.38 371.85,44.48 372.84,43.57 373.83,42.65 374.82,41.72 375.81,40.77 376.8,39.82 377.79,38.86 378.78,37.88 379.77,36.9 380.76,35.9 381.75,34.9 382.74,33.88 383.72,32.86 384.71,31.82 385.7,30.78 386.69,29.72 387.68,28.66 388.67,27.58 389.66,26.5 390.65,25.41 391.64,24.3 392.63,23.19 393.62,22.07 394.61,20.94 395.6,19.8 396.59,18.65 397.58,17.5 398.57,16.33 399.56,15.16 400.55,13.98 401.54,12.79 402.53,11.59" fill="none" stroke="#0000ff" stroke-width="1.15" stroke-linejoin="round" stroke-linecap="round" />
<polyline points="299.4,45.24 299.55,46.49 299.7,47.69 299.85,48.84 300,49.96 300.16,51.03 300.31,52.06 300.46,53.05 300.61,54.01 300.76,54.93 300.91,55.82 301.06,56.68 301.21,57.5 301.37,58.3 301.52,59.07 301.67,59.82 301.82,60.54 301.97,61.24 302.12,61.91 302.27,62.56 302.42,63.19 302.57,63.8 302.73,64.4 302.88,64.97 303.03,65.53 303.18,66.07 303.33,66.59 303.48,67.1 303.63,67.59 303.78,68.07 304.63,70.53 305.47,72.66 306.31,74.55 307.15,76.24 307.99,77.79 308.83,79.21 309.67,80.55 310.52,81.81 311.36,83.01 312.2,84.17 313.04,85.29 313.88,86.38 314.72,87.44 315.56,88.48 316.41,89.51 317.25,90.52 318.09,91.52 318.93,92.5 319.77,93.47 320.61,94.44 321.45,95.39 322.3,96.34 323.14,97.27 323.98,98.2 324.82,99.13 325.66,100.04 326.5,100.94 327.34,101.84 328.18,102.73 329.03,103.62 329.87,104.5 330.71,105.36 331.55,106.23 332.39,107.08 333.23,107.93 334.07,108.77 334.92,109.61 335.76,110.43 336.6,111.25 337.44,112.07 338.28,112.87 339.12,113.67 339.96,114.46 340.81,115.25 341.65,116.02 342.49,116.79 343.33,117.56 344.17,118.31 345.01,119.06 345.85,119.81 346.7,120.54 347.54,121.27 348.38,121.99 349.22,122.7 350.06,123.41 350.9,124.11 351.74,124.8 352.59,125.49 353.43,126.17 354.27,126.84 355.11,127.51 355.95,128.16 356.79,128.81 357.63,129.46 358.48,130.09 359.32,130.72 360.16,131.35 361,131.96 361.84,132.57 362.68,133.17 363.52,133.77 364.37,134.35 365.21,134.93 366.05,135.51 366.89,136.07 367.73,136.63 368.57,137.18 369.41,137.73 370.26,138.27 371.1,138.8 371.94,139.32 372.78,139.84 373.62,140.35 374.46,140.85 375.3,141.35 376.15,141.83 376.99,142.32 377.83,142.79 378.67,143.26 379.51,143.72 380.35,144.17 381.19,144.62 382.04,145.06 382.88,145.49 383.72,145.91 384.56,146.33 385.4,146.74 386.24,147.15 387.08,147.55" fill="none" stroke="#ff00ff" stroke-width="1.15" stroke-linejoin="round" stroke-linecap="round" />
<polyline points="299.4,121.63 299.55,121.2 299.7,120.77 299.85,120.34 300,119.91 300.15,119.49 300.3,119.07 300.45,118.65 300.6,118.24 300.74,117.83 300.89,117.42 301.04,117.01 301.19,116.6 301.34,116.2 301.49,115.8 301.64,115.4 301.79,115.01 301.94,114.62 302.09,114.22 302.24,113.84 302.39,113.45 302.54,113.07 302.69,112.68 302.84,112.3 302.99,111.93 303.14,111.55 303.28,111.18 303.43,110.81 303.58,110.44 303.73,110.07 304.56,108.08 305.4,106.14 306.23,104.27 307.06,102.46 307.89,100.71 308.72,99.01 309.55,97.37 310.39,95.78 311.22,94.24 312.05,92.75 312.88,91.31 313.71,89.91 314.54,88.56 315.38,87.25 316.21,85.97 317.04,84.74 317.87,83.55 318.7,82.38 319.53,81.26 320.37,80.16 321.2,79.1 322.03,78.07 322.86,77.06 323.69,76.08 324.52,75.13 325.36,74.2 326.19,73.29 327.02,72.41 327.85,71.55 328.68,70.7 329.51,69.88 330.35,69.07 331.18,68.28 332.01,67.5 332.84,66.74 333.67,65.98 334.5,65.25 335.34,64.52 336.17,63.8 337,63.09 337.83,62.39 338.66,61.69 339.49,61 340.33,60.32 341.16,59.64 341.99,58.97 342.82,58.3 343.65,57.63 344.48,56.96 345.32,56.29 346.15,55.62 346.98,54.95 347.81,54.28 348.64,53.61 349.47,52.93 350.3,52.25 351.14,51.56 351.97,50.87 352.8,50.17 353.63,49.47 354.46,48.76 355.29,48.05 356.13,47.32 356.96,46.59 357.79,45.84 358.62,45.09 359.45,44.32 360.28,43.55 361.12,42.76 361.95,41.96 362.78,41.15 363.61,40.33 364.44,39.49 365.27,38.64 366.11,37.77 366.94,36.89 367.77,36 368.6,35.08 369.43,34.16 370.26,33.21 371.1,32.25 371.93,31.27 372.76,30.27 373.59,29.26 374.42,28.22 375.25,27.17 376.09,26.1 376.92,25.01 377.75,23.89 378.58,22.76 379.41,21.61 380.24,20.43 381.08,19.24 381.91,18.02 382.74,16.78 383.57,15.52 384.4,14.23 385.23,12.92 386.07,11.59" fill="none" stroke="#ff00ff" stroke-width="1.15" stroke-linejoin="round" stroke-linecap="round" />
<polyline points="299.4,53.88 299.52,54.72 299.64,55.54 299.77,56.33 299.89,57.11 300.01,57.86 300.13,58.6 300.26,59.31 300.38,60.01 300.5,60.69 300.62,61.35 300.75,62 300.87,62.63 300.99,63.24 301.11,63.84 301.24,64.42 301.36,64.99 301.48,65.55 301.6,66.09 301.73,66.62 301.85,67.14 301.97,67.65 302.09,68.14 302.22,68.62 302.34,69.09 302.46,69.55 302.58,70.01 302.7,70.45 302.83,70.88 302.95,71.3 303.63,73.5 304.31,75.46 304.99,77.23 305.67,78.84 306.36,80.31 307.04,81.68 307.72,82.95 308.4,84.14 309.08,85.26 309.76,86.33 310.44,87.36 311.12,88.34 311.81,89.3 312.49,90.22 313.17,91.12 313.85,92 314.53,92.86 315.21,93.71 315.89,94.54 316.58,95.37 317.26,96.18 317.94,96.99 318.62,97.78 319.3,98.57 319.98,99.36 320.66,100.13 321.34,100.91 322.03,101.67 322.71,102.43 323.39,103.19 324.07,103.95 324.75,104.7 325.43,105.44 326.11,106.19 326.79,106.92 327.48,107.66 328.16,108.39 328.84,109.12 329.52,109.84 330.2,110.56 330.88,111.28 331.56,112 332.24,112.71 332.93,113.42 333.61,114.12 334.29,114.83 334.97,115.52 335.65,116.22 336.33,116.91 337.01,117.6 337.69,118.29 338.38,118.97 339.06,119.65 339.74,120.33 340.42,121 341.1,121.67 341.78,122.34 342.46,123 343.14,123.67 343.83,124.32 344.51,124.98 345.19,125.63 345.87,126.28 346.55,126.92 347.23,127.57 347.91,128.21 348.59,128.84 349.28,129.47 349.96,130.1 350.64,130.73 351.32,131.35 352,131.98 352.68,132.59 353.36,133.21 354.04,133.82 354.73,134.43 355.41,135.03 356.09,135.63 356.77,136.23 357.45,136.83 358.13,137.42 358.81,138.01 359.5,138.59 360.18,139.18 360.86,139.76 361.54,140.33 362.22,140.91 362.9,141.48 363.58,142.05 364.26,142.61 364.95,143.17 365.63,143.73 366.31,144.28 366.99,144.83 367.67,145.38 368.35,145.93 369.03,146.47 369.71,147.01 370.4,147.55" fill="none" stroke="#8000ff" stroke-width="1.15" stroke-linejoin="round" stroke-linecap="round" />
<polyline points="299.4,117.08 299.52,116.62 299.64,116.16 299.77,115.7 299.89,115.25 300.01,114.8 300.13,114.35 300.26,113.91 300.38,113.47 300.5,113.03 300.62,112.6 300.74,112.17 300.87,111.74 300.99,111.32 301.11,110.9 301.23,110.48 301.36,110.07 301.48,109.65 301.6,109.25 301.72,108.84 301.84,108.44 301.97,108.04 302.09,107.64 302.21,107.25 302.33,106.86 302.46,106.47 302.58,106.09 302.7,105.7 302.82,105.32 302.94,104.95 303.62,102.9 304.3,100.94 304.98,99.06 305.66,97.25 306.35,95.51 307.03,93.84 307.71,92.23 308.39,90.69 309.07,89.21 309.75,87.78 310.43,86.41 311.11,85.09 311.79,83.81 312.47,82.58 313.15,81.39 313.83,80.25 314.51,79.14 315.19,78.07 315.87,77.03 316.55,76.03 317.23,75.05 317.91,74.11 318.59,73.18 319.27,72.29 319.95,71.41 320.63,70.56 321.31,69.73 321.99,68.91 322.67,68.11 323.35,67.33 324.03,66.56 324.71,65.8 325.39,65.05 326.07,64.31 326.75,63.58 327.43,62.86 328.11,62.15 328.79,61.44 329.47,60.73 330.15,60.03 330.83,59.33 331.51,58.63 332.19,57.94 332.87,57.24 333.55,56.55 334.23,55.85 334.91,55.15 335.59,54.45 336.27,53.75 336.95,53.04 337.63,52.34 338.31,51.62 338.99,50.9 339.67,50.18 340.35,49.45 341.03,48.72 341.71,47.98 342.39,47.23 343.07,46.48 343.76,45.72 344.44,44.96 345.12,44.18 345.8,43.4 346.48,42.62 347.16,41.83 347.84,41.02 348.52,40.22 349.2,39.4 349.88,38.58 350.56,37.75 351.24,36.92 351.92,36.07 352.6,35.22 353.28,34.37 353.96,33.51 354.64,32.64 355.32,31.76 356,30.88 356.68,30 357.36,29.11 358.04,28.21 358.72,27.31 359.4,26.4 360.08,25.49 360.76,24.58 361.44,23.66 362.12,22.74 362.8,21.81 363.48,20.89 364.16,19.96 364.84,19.03 365.52,18.1 366.2,17.17 366.88,16.24 367.56,15.3 368.24,14.37 368.92,13.44 369.6,12.51 370.28,11.59" fill="none" stroke="#8000ff" stroke-width="1.15" stroke-linejoin="round" stroke-linecap="round" />
<polyline points="299.4,70.7 299.49,71.05 299.57,71.39 299.66,71.73 299.74,72.06 299.83,72.4 299.91,72.72 300,73.05 300.08,73.37 300.17,73.69 300.25,74.01 300.34,74.32 300.42,74.63 300.51,74.94 300.59,75.24 300.68,75.54 300.77,75.84 300.85,76.13 300.94,76.43 301.02,76.72 301.11,77 301.19,77.29 301.28,77.57 301.36,77.85 301.45,78.13 301.53,78.4 301.62,78.67 301.7,78.94 301.79,79.21 301.87,79.47 302.35,80.91 302.82,82.28 303.3,83.59 303.77,84.85 304.25,86.06 304.72,87.23 305.2,88.35 305.67,89.44 306.15,90.49 306.62,91.51 307.1,92.5 307.57,93.47 308.05,94.41 308.52,95.33 309,96.23 309.47,97.1 309.95,97.96 310.42,98.81 310.9,99.64 311.37,100.45 311.85,101.25 312.32,102.04 312.8,102.82 313.27,103.59 313.75,104.35 314.22,105.09 314.7,105.83 315.17,106.57 315.65,107.29 316.12,108.01 316.6,108.71 317.07,109.42 317.55,110.11 318.02,110.8 318.5,111.49 318.97,112.17 319.45,112.84 319.92,113.51 320.4,114.17 320.87,114.83 321.35,115.49 321.82,116.14 322.3,116.79 322.77,117.43 323.25,118.07 323.72,118.7 324.2,119.33 324.67,119.96 325.15,120.58 325.62,121.2 326.1,121.81 326.57,122.42 327.05,123.03 327.52,123.64 328,124.24 328.47,124.84 328.95,125.43 329.42,126.02 329.9,126.61 330.37,127.19 330.85,127.77 331.32,128.35 331.8,128.93 332.27,129.5 332.75,130.07 333.22,130.63 333.7,131.19 334.17,131.75 334.65,132.31 335.12,132.86 335.6,133.41 336.07,133.96 336.55,134.5 337.02,135.04 337.5,135.58 337.97,136.11 338.45,136.64 338.92,137.17 339.4,137.69 339.87,138.22 340.35,138.73 340.82,139.25 341.3,139.76 341.77,140.27 342.25,140.78 342.72,141.28 343.2,141.78 343.67,142.28 344.15,142.77 344.62,143.26 345.1,143.75 345.57,144.24 346.05,144.72 346.52,145.2 347,145.67 347.47,146.15 347.95,146.61 348.42,147.08 348.9,147.55" fill="none" stroke="#00ee00" stroke-width="1.15" stroke-linejoin="round" stroke-linecap="round" />
<polyline points="299.4,103.89 299.49,103.32 299.57,102.76 299.66,102.22 299.75,101.71 299.83,101.2 299.92,100.72 300.01,100.25 300.09,99.8 300.18,99.36 300.27,98.93 300.35,98.52 300.44,98.12 300.52,97.73 300.61,97.35 300.7,96.98 300.78,96.62 300.87,96.27 300.96,95.93 301.04,95.59 301.13,95.27 301.22,94.95 301.3,94.63 301.39,94.33 301.48,94.03 301.56,93.73 301.65,93.44 301.74,93.16 301.82,92.88 301.91,92.6 302.39,91.15 302.87,89.8 303.35,88.52 303.83,87.3 304.32,86.12 304.8,84.98 305.28,83.86 305.76,82.76 306.24,81.68 306.72,80.62 307.21,79.56 307.69,78.52 308.17,77.49 308.65,76.47 309.13,75.45 309.61,74.45 310.09,73.45 310.58,72.46 311.06,71.47 311.54,70.49 312.02,69.52 312.5,68.56 312.98,67.6 313.46,66.65 313.95,65.71 314.43,64.77 314.91,63.84 315.39,62.92 315.87,62 316.35,61.09 316.84,60.19 317.32,59.29 317.8,58.4 318.28,57.51 318.76,56.63 319.24,55.76 319.72,54.89 320.21,54.03 320.69,53.18 321.17,52.33 321.65,51.49 322.13,50.65 322.61,49.82 323.09,48.99 323.58,48.18 324.06,47.36 324.54,46.55 325.02,45.75 325.5,44.96 325.98,44.17 326.47,43.38 326.95,42.6 327.43,41.83 327.91,41.06 328.39,40.3 328.87,39.54 329.35,38.79 329.84,38.04 330.32,37.3 330.8,36.57 331.28,35.84 331.76,35.11 332.24,34.39 332.73,33.67 333.21,32.97 333.69,32.26 334.17,31.56 334.65,30.87 335.13,30.18 335.61,29.49 336.1,28.81 336.58,28.13 337.06,27.46 337.54,26.8 338.02,26.14 338.5,25.48 338.98,24.83 339.47,24.18 339.95,23.54 340.43,22.9 340.91,22.27 341.39,21.64 341.87,21.01 342.36,20.39 342.84,19.78 343.32,19.17 343.8,18.56 344.28,17.96 344.76,17.36 345.24,16.76 345.73,16.17 346.21,15.59 346.69,15 347.17,14.42 347.65,13.85 348.13,13.28 348.61,12.71 349.1,12.15 349.58,11.59" fill="none" stroke="#00ee00" stroke-width="1.15" stroke-linejoin="round" stroke-linecap="round" />
<polyline points="299.4,29.78 299.63,31.83 299.85,33.77 300.08,35.61 300.3,37.35 300.53,38.99 300.75,40.55 300.98,42.03 301.2,43.44 301.43,44.77 301.65,46.03 301.88,47.23 302.1,48.37 302.33,49.46 302.55,50.49 302.78,51.48 303,52.42 303.23,53.31 303.46,54.17 303.68,54.98 303.91,55.77 304.13,56.51 304.36,57.23 304.58,57.91 304.81,58.57 305.03,59.2 305.26,59.81 305.48,60.4 305.71,60.96 305.93,61.5 307.19,64.2 308.44,66.48 309.7,68.45 310.95,70.21 312.2,71.82 313.46,73.31 314.71,74.73 315.97,76.08 317.22,77.39 318.47,78.67 319.73,79.91 320.98,81.14 322.24,82.35 323.49,83.54 324.74,84.71 326,85.88 327.25,87.03 328.51,88.17 329.76,89.3 331.01,90.42 332.27,91.53 333.52,92.63 334.78,93.72 336.03,94.8 337.28,95.87 338.54,96.93 339.79,97.98 341.04,99.01 342.3,100.04 343.55,101.06 344.81,102.07 346.06,103.07 347.31,104.06 348.57,105.04 349.82,106.01 351.08,106.97 352.33,107.92 353.58,108.86 354.84,109.79 356.09,110.71 357.35,111.62 358.6,112.52 359.85,113.41 361.11,114.29 362.36,115.17 363.62,116.03 364.87,116.88 366.12,117.72 367.38,118.55 368.63,119.37 369.89,120.19 371.14,120.99 372.39,121.78 373.65,122.56 374.9,123.33 376.16,124.1 377.41,124.85 378.66,125.59 379.92,126.32 381.17,127.05 382.43,127.76 383.68,128.46 384.93,129.16 386.19,129.84 387.44,130.51 388.7,131.18 389.95,131.83 391.2,132.48 392.46,133.11 393.71,133.73 394.97,134.35 396.22,134.95 397.47,135.55 398.73,136.13 399.98,136.71 401.24,137.27 402.49,137.83 403.74,138.37 405,138.91 406.25,139.43 407.51,139.95 408.76,140.46 410.01,140.95 411.27,141.44 412.52,141.91 413.78,142.38 415.03,142.84 416.28,143.28 417.54,143.72 418.79,144.15 420.04,144.56 421.3,144.97 422.55,145.37 423.81,145.75 425.06,146.13 426.31,146.5 427.57,146.86 428.82,147.21 430.08,147.54" fill="none" stroke="#ff8000" stroke-width="1.15" stroke-linejoin="round" stroke-linecap="round" />
<polyline points="299.4,135.27 299.62,134.75 299.84,134.24 300.06,133.74 300.29,133.24 300.51,132.74 300.73,132.25 300.95,131.76 301.17,131.27 301.39,130.79 301.61,130.32 301.84,129.84 302.06,129.38 302.28,128.91 302.5,128.45 302.72,128 302.94,127.55 303.16,127.1 303.39,126.65 303.61,126.21 303.83,125.78 304.05,125.34 304.27,124.91 304.49,124.49 304.71,124.07 304.94,123.65 305.16,123.23 305.38,122.82 305.6,122.42 305.82,122.01 307.05,119.83 308.29,117.74 309.52,115.75 310.75,113.85 311.98,112.03 313.21,110.3 314.45,108.64 315.68,107.05 316.91,105.53 318.14,104.07 319.38,102.67 320.61,101.32 321.84,100.03 323.07,98.78 324.3,97.57 325.54,96.41 326.77,95.28 328,94.18 329.23,93.12 330.47,92.08 331.7,91.07 332.93,90.08 334.16,89.11 335.39,88.15 336.63,87.22 337.86,86.3 339.09,85.38 340.32,84.48 341.56,83.59 342.79,82.7 344.02,81.81 345.25,80.93 346.49,80.05 347.72,79.17 348.95,78.29 350.18,77.4 351.41,76.52 352.65,75.62 353.88,74.72 355.11,73.82 356.34,72.91 357.58,71.99 358.81,71.06 360.04,70.12 361.27,69.17 362.5,68.22 363.74,67.25 364.97,66.27 366.2,65.28 367.43,64.28 368.67,63.27 369.9,62.25 371.13,61.21 372.36,60.17 373.59,59.11 374.83,58.05 376.06,56.97 377.29,55.88 378.52,54.79 379.76,53.68 380.99,52.57 382.22,51.44 383.45,50.31 384.68,49.17 385.92,48.02 387.15,46.87 388.38,45.71 389.61,44.55 390.85,43.38 392.08,42.21 393.31,41.04 394.54,39.86 395.78,38.68 397.01,37.51 398.24,36.33 399.47,35.16 400.7,33.99 401.94,32.83 403.17,31.67 404.4,30.52 405.63,29.37 406.87,28.24 408.1,27.11 409.33,26 410.56,24.9 411.79,23.81 413.03,22.74 414.26,21.68 415.49,20.65 416.72,19.63 417.96,18.63 419.19,17.66 420.42,16.71 421.65,15.78 422.88,14.89 424.12,14.02 425.35,13.18 426.58,12.37 427.81,11.59" fill="none" stroke="#ff8000" stroke-width="1.15" stroke-linejoin="round" stroke-linecap="round" />
<line x1="412.9" y1="42.8" x2="429.9" y2="42.8" stroke="#ff0000" stroke-width="1.5"/>
<text x="432.8" y="45.8" font-size="9.2">100mAg<tspan font-size="6" dy="-5.5">-1</tspan></text>
<line x1="412.9" y1="59.7" x2="429.9" y2="59.7" stroke="#0000ff" stroke-width="1.5"/>
<text x="432.8" y="62.7" font-size="9.2">200mAg<tspan font-size="6" dy="-5.5">-1</tspan></text>
<line x1="412.9" y1="76.7" x2="429.9" y2="76.7" stroke="#ff00ff" stroke-width="1.5"/>
<text x="432.8" y="79.7" font-size="9.2">300mAg<tspan font-size="6" dy="-5.5">-1</tspan></text>
<line x1="412.9" y1="94.3" x2="429.9" y2="94.3" stroke="#8000ff" stroke-width="1.5"/>
<text x="432.8" y="97.3" font-size="9.2">500mAg<tspan font-size="6" dy="-5.5">-1</tspan></text>
<line x1="412.9" y1="111.6" x2="429.9" y2="111.6" stroke="#00ee00" stroke-width="1.5"/>
<text x="432.8" y="114.6" font-size="9.2">1000mAg<tspan font-size="6" dy="-5.5">-1</tspan></text>
<line x1="412.9" y1="128.8" x2="429.9" y2="128.8" stroke="#ff8000" stroke-width="1.5"/>
<text x="432.8" y="131.8" font-size="9.2">100mAg<tspan font-size="6" dy="-5.5">-1</tspan></text>
<defs><clipPath id="cc"><rect x="58.15" y="192.8" width="394.45" height="139"/></clipPath></defs><g clip-path="url(#cc)">
<polyline points="59.5,216.01 60.06,215.09 60.62,215.68 61.18,215.49 61.75,215.51 62.31,215.56 62.87,215.2 63.43,215.55 63.99,215.43 64.55,216.26 65.12,215.65 65.68,215.53 66.24,215.54 66.8,215.47 67.36,215.39 67.92,215.52 68.48,215.7 69.05,215.55 69.61,215.79 70.17,215.56 70.73,215.6 71.29,215.91 71.85,215.71 72.41,215.5 72.98,215.56 73.54,215.71 74.1,215.99 74.66,215.55 75.22,215.55 75.78,215.8 76.35,215.42 76.91,215.54 77.47,215.78 78.03,215.72 78.59,215.62 79.15,215.73 79.71,215.03 80.28,215.8 80.84,215.41 81.4,215.27 81.96,215.66 82.52,215.74 83.08,215.51 83.65,215.38 84.21,215.61 84.77,215.59 85.33,215.88 85.89,215.75 86.45,215.64 87.01,215.82 87.58,215.56 88.14,215.41 88.7,215.72 89.26,215.72 89.82,215.56 90.38,215.44 90.94,215.65 91.51,215.1 92.07,215.74 92.63,215.7 93.19,215.27 93.75,215.61 94.31,215.41 94.88,215.75 95.44,215.19 96,215.42 96.56,215.74 97.12,215.83 97.68,215.17 98.24,215.5 98.81,215.67 99.37,215.48 99.93,215.92 100.49,215.36 101.05,215.67 101.61,215.39 102.18,215.88 102.74,215.6 103.3,215.53 103.86,215.26 104.42,215.94 104.98,215.75 105.54,215.75 106.11,215.83 106.67,215.67 107.23,215.47 107.79,215.44 108.35,215.44 108.91,215.87 109.47,215.31 110.04,215.48 110.6,215.54 111.16,215.64 111.72,215.72 112.28,215.35 112.84,215.25 113.41,215.6 113.97,215.84 114.53,215.75 115.09,215.64 115.65,215.54 116.21,215.66 116.77,215.55 117.34,215.76 117.9,215.44 118.46,215.63 119.02,215.58 119.58,215.71 120.14,215.64 120.71,216.11 121.27,215.9 121.83,215.9 122.39,215.19 122.95,215.53 123.51,215.48 124.07,215.71 124.64,215.14 125.2,215.83 125.76,215.81 126.32,215.34 126.88,215.4 127.44,215.44 128.01,215.61 128.57,215.73 129.13,216.01 129.69,215.56 130.25,215.75 130.81,215.63 131.37,215.95 131.94,215.75 132.5,215.87 133.06,215.38 133.62,215.56 134.18,215.44 134.74,215.9 135.3,215.73 135.87,215.54 136.43,215.51 136.99,215.7 137.55,215.46 138.11,215.41 138.67,215.7 139.24,216.09 139.8,215.55 140.36,215.49 140.92,215.37 141.48,215.33 142.04,215.7 142.6,215.77 143.17,215.6 143.73,215.67 144.29,215.62 144.85,215.63 145.41,215.29 145.97,215.51 146.54,215.62 147.1,215.44 147.66,215.5 148.22,215.44 148.78,215.53 149.34,215.77 149.9,215.52 150.47,215.57 151.03,215.76 151.59,215.73 152.15,215.94 152.71,215.18 153.27,215.77 153.83,215.5 154.4,215.63 154.96,215.77 155.52,215.82 156.08,215.81 156.64,215.63 157.2,215.92 157.77,215.54 158.33,215.57 158.89,215.76 159.45,215.49 160.01,216.03 160.57,215.8 161.13,216.04 161.7,215.59 162.26,215.52 162.82,215.63 163.38,215.75 163.94,215.48 164.5,215.68 165.07,215.6 165.63,215.92 166.19,215.47 166.75,215.81 167.31,215.47 167.87,215.41 168.43,215.46 169,215.36 169.56,215.63 170.12,215.81 170.68,215.63 171.24,215.72 171.8,215.93 172.36,215.65 172.93,215.64 173.49,215.54 174.05,215.28 174.61,215.75 175.17,215.25 175.73,215.73 176.3,215.6 176.86,215.83 177.42,215.59 177.98,215.44 178.54,215.67 179.1,215.49 179.66,215.56 180.23,215.61 180.79,215.57 181.35,215.56 181.91,215.43 182.47,215.56 183.03,215.17 183.6,215.57 184.16,215.36 184.72,215.82 185.28,215.85 185.84,215.21 186.4,215.63 186.96,215.57 187.53,215.39 188.09,215.71 188.65,215.51 189.21,215.25 189.77,215.55 190.33,215.57 190.89,215.62 191.46,215.35 192.02,215.72 192.58,215.75 193.14,215.37 193.7,215.47 194.26,215.58 194.83,215.49 195.39,215.95 195.95,215.64 196.51,215.4 197.07,215.44 197.63,215.59 198.19,216.06 198.76,215.56 199.32,215.63 199.88,215.7 200.44,215.59 201,216.06 201.56,215.49 202.13,215.75 202.69,215.63 203.25,215.72 203.81,215.36 204.37,215.95 204.93,215.58 205.49,215.61 206.06,215.41 206.62,215.45 207.18,215.71 207.74,215.8 208.3,215.75 208.86,215.84 209.42,215.74 209.99,215.61 210.55,215.77 211.11,215.72 211.67,215.58 212.23,215.75 212.79,215.86 213.36,215.65 213.92,215.53 214.48,215.74 215.04,215.98 215.6,215.56 216.16,215.58 216.72,215.57 217.29,215.84 217.85,215.23 218.41,215.67 218.97,215.84 219.53,215.44 220.09,215.9 220.66,215.71 221.22,215.49 221.78,215.64 222.34,215.29 222.9,215.49 223.46,215.97 224.02,215.42 224.59,215.97 225.15,215.58 225.71,215.8 226.27,215.61 226.83,215.15 227.39,215.49 227.95,215.64 228.52,215.37 229.08,215.33 229.64,215.67 230.2,215.47 230.76,215.26 231.32,215.46 231.89,215.77 232.45,215.51 233.01,215.79 233.57,215.91 234.13,215.61 234.69,215.37 235.25,215.34 235.82,215.59 236.38,215.78 236.94,215.65 237.5,215.71 238.06,215.51 238.62,215.66 239.19,215.51 239.75,215.53 240.31,215.34 240.87,215.29 241.43,215.5 241.99,215.38 242.55,215.41 243.12,215.73 243.68,215.58 244.24,216.18 244.8,215.79 245.36,215.47 245.92,215.76 246.48,215.67 247.05,215.46 247.61,215.82 248.17,215.44 248.73,214.99 249.29,215.76 249.85,215.48 250.42,215.9 250.98,215.47 251.54,215.36 252.1,215.91 252.66,215.38 253.22,215.64 253.78,215.89 254.35,215.62 254.91,215.58 255.47,215.62 256.03,215.77 256.59,215.44 257.15,215.72 257.72,215.72 258.28,216.07 258.84,215.53 259.4,215.42 259.96,215.75 260.52,215.52 261.08,215.66 261.65,215.63 262.21,215.83 262.77,215.47 263.33,215.58 263.89,215.09 264.45,215.42 265.02,215.91 265.58,215.46 266.14,215.46 266.7,215.36 267.26,215.72 267.82,215.64 268.38,215.36 268.95,215.73 269.51,215.65 270.07,215.75 270.63,215.47 271.19,215.95 271.75,215.68 272.31,215.58 272.88,215.5 273.44,215.55 274,215.77 274.56,215.55 275.12,215.82 275.68,215.72 276.25,215.87 276.81,215.76 277.37,215.59 277.93,215.22 278.49,215.66 279.05,215.76 279.61,215.63 280.18,215.71 280.74,215.51 281.3,215.52 281.86,215.41 282.42,215.87 282.98,215.63 283.55,215.5 284.11,215.33 284.67,215.57 285.23,215.89 285.79,215.69 286.35,215.46 286.91,215.89 287.48,215.89 288.04,215.8 288.6,215.76 289.16,215.83 289.72,215.71 290.28,215.76 290.84,215.44 291.41,215.9 291.97,215.65 292.53,216 293.09,215.19 293.65,215.74 294.21,215.8 294.78,215.53 295.34,215.69 295.9,215.75 296.46,215.72 297.02,215.49 297.58,215.57 298.14,215.8 298.71,215.86 299.27,215.62 299.83,215.62 300.39,215.64 300.95,215.81 301.51,215.39 302.08,215.33 302.64,215.62 303.2,215.38 303.76,215.48 304.32,215.62 304.88,215.7 305.44,215.39 306.01,215.76 306.57,215.25 307.13,215.71 307.69,215.28 308.25,215.35 308.81,215.73 309.37,215.52 309.94,215.44 310.5,215.51 311.06,215.69 311.62,215.59 312.18,215.59 312.74,215.81 313.31,215.46 313.87,215.51 314.43,215.5 314.99,215.83 315.55,215.8 316.11,215.86 316.67,215.59 317.24,215.57 317.8,215.77 318.36,215.52 318.92,215.77 319.48,215.74 320.04,215.46 320.61,215.58 321.17,215.58 321.73,215.95 322.29,216.12 322.85,215.58 323.41,215.6 323.97,215.14 324.54,215.64 325.1,215.6 325.66,215.39 326.22,215.76 326.78,215.29 327.34,215.56 327.9,215.63 328.47,215.35 329.03,215.77 329.59,215.81 330.15,215.32 330.71,215.32 331.27,215.72 331.84,215.59 332.4,215.36 332.96,215.54 333.52,215.58 334.08,215.57 334.64,215.77 335.2,215.68 335.77,215.95 336.33,215.87 336.89,215.74 337.45,215.82 338.01,215.86 338.57,215.74 339.14,215.35 339.7,215.77 340.26,215.61 340.82,215.92 341.38,215.62 341.94,215.71 342.5,215.67 343.07,215.94 343.63,215.64 344.19,215.55 344.75,215.66 345.31,215.51 345.87,215.63 346.43,215.6 347,215.65 347.56,215.98 348.12,215.52 348.68,215.61 349.24,215.56 349.8,215.73 350.37,215.36 350.93,215.46 351.49,215.59 352.05,215.71 352.61,215.59 353.17,215.5 353.73,215.43 354.3,215.7 354.86,215.89 355.42,215.66 355.98,215.64 356.54,215.69 357.1,215.41 357.67,215.54 358.23,215.55 358.79,215.66 359.35,215.59 359.91,215.36 360.47,215.83 361.03,215.94 361.6,215.55 362.16,215.68 362.72,215.65 363.28,215.76 363.84,215.3 364.4,215.92 364.96,215.51 365.53,215.85 366.09,215.62 366.65,215.52 367.21,215.57 367.77,215.78 368.33,215.43 368.9,215.52 369.46,215.5 370.02,215.26 370.58,215.86 371.14,215.72 371.7,215.6 372.26,215.83 372.83,215.41 373.39,215.59 373.95,215.95 374.51,215.8 375.07,215.15 375.63,214.93 376.2,215.39 376.76,215.81 377.32,215.51 377.88,215.56 378.44,215.72 379,215.42 379.56,215.64 380.13,215.76 380.69,215.69 381.25,215.68 381.81,215.48 382.37,215.7 382.93,215.51 383.49,215.86 384.06,216.11 384.62,215.45 385.18,215.17 385.74,215.51 386.3,215.68 386.86,215.81 387.43,215.82 387.99,215.44 388.55,215.44 389.11,215.85 389.67,215.38 390.23,215.82 390.79,215.55 391.36,215.75 391.92,215.74 392.48,215.76 393.04,215.76 393.6,215.4 394.16,215.66 394.73,215.6 395.29,215.66 395.85,215.85 396.41,215.55 396.97,215.46 397.53,215.45 398.09,215.54 398.66,215.75 399.22,215.44 399.78,215.83 400.34,215.66 400.9,215.55 401.46,215.33 402.03,215.65 402.59,215.74 403.15,215.25 403.71,215.84 404.27,215.93 404.83,215.67 405.39,215.7 405.96,216.08 406.52,215.85 407.08,215.42 407.64,215.6 408.2,215.57 408.76,215.57 409.32,215.13 409.89,215.75 410.45,215.47 411.01,215.63 411.57,215.57 412.13,215.77 412.69,215.54 413.26,215.44 413.82,215.71 414.38,215.88 414.94,215.54 415.5,215.87 416.06,215.65 416.62,215.49 417.19,215.91 417.75,215.44 418.31,215.8 418.87,215.5 419.43,215.69 419.99,215.35 420.56,215.43 421.12,215.81 421.68,215.64 422.24,215.61 422.8,215.51 423.36,215.69 423.92,215.32 424.49,215.38 425.05,215.57 425.61,215.43 426.17,215.46 426.73,215.59 427.29,215.57 427.85,215.56 428.42,215.93 428.98,215.8 429.54,215.85 430.1,215.59 430.66,215.5 431.22,215.31 431.79,215.53 432.35,215.18 432.91,215.48 433.47,215.75 434.03,215.92 434.59,215.79 435.15,215.43 435.72,215.7 436.28,215.44 436.84,215.76 437.4,215.58 437.96,215.77 438.52,216.11 439.09,215.78 439.65,216.07 440.21,215.64 440.77,215.53 441.33,215.87 441.89,215.94 442.45,215.49 443.02,215.62 443.58,215.31 444.14,215.56 444.7,215.78 445.26,215.58 445.82,215.49 446.38,215.32 446.95,215.67 447.51,215.76 448.07,215.72 448.63,215.65 449.19,215.35 449.75,215.95 450.32,215.59 450.88,215.57 451.44,215.75 452,215.17" fill="none" stroke="#0000ff" stroke-width="6.8" stroke-linejoin="round" stroke-linecap="round" stroke-linecap="butt"/>
<path d="M57,211.1 L62,211.1 L62,216 L57,216 Z" fill="#0000ff"/>
<path d="M57,223.2 L57.5,223.2 L63,226.2 L57.5,229.1 L57,229.1 Z" fill="#0000ff"/>
<polyline points="59.5,258.58 59.99,261.78 60.48,264.04 60.97,265.52 61.46,266.42 61.96,266.51 62.45,267.59 62.94,268.38 63.43,268.75 63.92,268.66 64.41,268.89 64.9,269.9 65.39,270.01 65.89,270.04 66.38,269.67 66.87,270.86 67.36,269.59 67.85,270.49 68.34,271.36 68.83,270.83 69.32,271.08 69.82,270.79 70.31,271.66 70.8,270.94 71.29,271.48 71.78,271.53 72.27,271.25 72.76,271.91 73.25,271.3 73.75,271.59 74.24,271.87 74.73,271.83 75.22,272.16 75.71,272.33 76.2,272 76.69,271.96 77.18,272 77.68,272.08 78.17,272.47 78.66,272.2 79.15,272.42 79.64,272.3 80.13,272.11 80.62,272.66 81.11,272.13 81.61,272.47 82.1,272.95 82.59,272.21 83.08,272.55 83.57,272.12 84.06,272.47 84.55,272.21 85.04,272.58 85.54,272.56 86.03,272.79 86.52,273.25 87.01,272.89 87.5,273.04 87.99,272.85 88.48,272.83 88.97,272.68 89.47,272.42 89.96,273.01 90.45,273.51 90.94,273.19 91.43,272.92 91.92,273.61 92.41,273.01 92.9,272.99 93.4,272.84 93.89,272.94 94.38,273.19 94.87,273.89 95.36,273.26 95.85,273.04 96.34,273.2 96.83,273.34 97.33,272.93 97.82,273.51 98.31,273.71 98.8,273.62 99.29,273.74 99.78,273.2 100.27,273.1 100.76,274 101.26,273.95 101.75,273.17 102.24,273.71 102.73,273.66 103.22,273.83 103.71,273.74 104.2,273.53 104.69,273.75 105.19,273.75 105.68,273.7 106.17,273.17 106.66,272.83 107.15,273.51 107.64,273.26 108.13,273.84 108.62,273.99 109.12,273.86 109.61,273.68 110.1,273.82 110.59,274.16 111.08,273.6 111.57,274.11 112.06,274.05 112.55,273.93 113.05,274.3 113.54,273.66 114.03,274.16 114.52,273.61 115.01,273.67 115.5,273.59 115.99,274.05 116.48,273.65 116.97,273.96 117.47,273.61 117.96,274.28 118.45,274.52 118.94,274.05 119.43,274.48 119.92,274.17 120.41,274.65 120.9,274.03 121.4,273.53 121.89,274.45 122.38,273.96 122.87,273.69 123.36,273.8 123.85,273.51 124.34,273.95 124.83,273.68 125.33,274.45 125.82,274.2 126.31,273.5 126.8,273.55 127.29,273.83 127.78,273.42 128.27,273.97 128.76,273.99 129.26,273.77 129.75,273.84 130.24,274.15 130.73,274.43 131.22,274.45 131.71,274.01 132.2,274.26 132.69,273.78 133.19,274.12 133.68,273.71 134.17,274.22 134.66,273.63 135.15,273.71 135.64,274 136.13,274.17 136.62,273.57 137.12,273.84 137.61,274.04 138.1,274.07 138.59,273.75 139.08,274.03 139.57,273.92 140.06,274.42 140.55,274.17 141.05,273.6 141.54,273.34 142.03,274.03 142.52,274.35 143.01,274.05 143.5,274.26 143.99,273.85 144.48,273.59 144.98,274.22 145.47,274.03 145.96,274.21 146.45,273.59 146.94,274.05 147.43,273.81 147.92,274.24 148.41,273.83 148.91,273.82 149.4,273.82 149.89,274.38 150.38,274.01 150.87,273.78 151.36,273.71 151.85,273.71 152.34,274.47 152.84,273.49 153.33,273.79 153.82,274.24 154.31,274.41 154.8,274.02 155.29,274.31 155.78,274.3 156.27,274.38 156.77,274.1 157.26,274.59 157.75,274.17 158.24,274.57 158.73,273.79 159.22,274.41 159.71,273.76 160.2,273.69 160.7,274.3 161.19,273.91 161.68,274.3 162.17,273.85 162.66,274.66 163.15,274.19 163.64,273.85 164.13,274.25 164.63,274.47 165.12,273.96 165.61,274.25 166.1,274.61 166.59,274.16 167.08,273.8 167.57,273.53 168.06,273.8 168.56,273.3 169.05,272.97 169.54,273.8 170.03,273.8 170.52,274.77 171.01,274.41 171.5,274.2 171.99,274.27 172.48,274.81 172.98,274.45 173.47,274.57 173.96,274.76 174.45,274.86 174.94,274.91 175.43,274.95 175.92,275.35 176.41,275.52 176.91,274.55 177.4,275.87 177.89,275.17 178.38,275.55 178.87,275 179.36,275.36 179.85,275.37 180.34,275.36 180.84,275.58 181.33,275.51 181.82,275.02 182.31,275.29 182.8,275.54 183.29,275.53 183.78,275.22 184.27,275.24 184.77,275.28 185.26,274.99 185.75,274.94 186.24,275.79 186.73,275.2 187.22,275.35 187.71,275.1 188.2,275.71 188.7,275.85 189.19,275.26 189.68,275.48 190.17,275.1 190.66,275.85 191.15,275.6 191.64,275.07 192.13,275.7 192.63,275.43 193.12,275.45 193.61,275.43 194.1,275.12 194.59,275.16 195.08,275.51 195.57,275.31 196.06,275.04 196.56,275.93 197.05,275.26 197.54,275.15 198.03,275.11 198.52,275.53 199.01,275.61 199.5,275.39 199.99,275.58 200.49,274.87 200.98,275.2 201.47,275.17 201.96,275.31 202.45,275.45 202.94,274.69 203.43,276.24 203.92,275.04 204.42,275.4 204.91,275.54 205.4,275.54 205.89,275.36 206.38,274.41 206.87,274.95 207.36,275.5 207.85,274.99 208.35,274.95 208.84,274.56 209.33,275.62 209.82,275.41 210.31,274.98 210.8,275.21 211.29,275.21 211.78,274.91 212.28,275.15 212.77,275.31 213.26,275.4 213.75,275.61 214.24,275.23 214.73,275.08 215.22,275.34 215.71,275.02 216.21,274.83 216.7,275.55 217.19,275.09 217.68,275.24 218.17,275.39 218.66,274.86 219.15,275.38 219.64,275.32 220.14,275.16 220.63,275.3 221.12,274.95 221.61,274.51 222.1,275.09 222.59,274.9 223.08,275.43 223.57,275.24 224.07,275 224.56,275.17 225.05,275.56 225.54,275.49 226.03,275.26 226.52,275.28 227.01,275.06 227.5,275.1 227.99,275.31 228.49,275.1 228.98,275.22 229.47,274.79 229.96,274.62 230.45,274.61 230.94,274.99 231.43,275.51 231.92,275.47 232.42,274.81 232.91,274.64 233.4,275.34 233.89,275.24 234.38,274.69 234.87,275.41 235.36,275.14 235.85,275.49 236.35,275.19 236.84,275.35 237.33,275.18 237.82,274.79 238.31,275 238.8,274.87 239.29,275.32 239.78,274.77 240.28,274.6 240.77,275.26 241.26,275.4 241.75,275.49 242.24,275.38 242.73,274.6 243.22,274.84 243.71,274.88 244.21,275.03 244.7,274.39 245.19,275.03 245.68,275.11 246.17,274.74 246.66,275.06 247.15,275.38 247.64,275.03 248.14,275.33 248.63,275.32 249.12,275.13 249.61,275.12 250.1,274.89 250.59,275.37 251.08,274.85 251.57,274.78 252.07,275.2 252.56,274.77 253.05,275.11 253.54,275.29 254.03,275 254.52,275 255.01,275.24 255.5,275.19 256,274.49 256.49,274.56 256.98,275.35 257.47,275.06 257.96,274.32 258.45,274.53 258.94,274.94 259.43,274.64 259.93,275.07 260.42,274.95 260.91,275.07 261.4,274.56 261.89,275.1 262.38,275.49 262.87,274.66 263.36,275.29 263.86,275.19 264.35,275.08 264.84,274.87 265.33,274.54 265.82,274.62 266.31,275.11 266.8,275.17 267.29,275.24 267.79,275.15 268.28,275.13 268.77,274.73 269.26,274.49 269.75,274.91 270.24,275 270.73,274.87 271.22,274.38 271.72,274.68 272.21,274.39 272.7,274.87 273.19,274.51 273.68,274.77 274.17,274.91 274.66,274.85 275.15,275.22 275.65,274.47 276.14,274.14 276.63,275.08 277.12,275.21 277.61,275.22 278.1,274.87 278.59,274.94 279.08,274.81 279.58,274.38 280.07,274.6 280.56,274.91 281.05,274.59 281.54,275.33 282.03,274.29 282.52,274.62 283.01,275.08 283.51,274.56 284,274.4 284.49,274.33 284.98,274.51 285.47,275.18 285.96,274.84 286.45,274.87 286.94,274.56 287.43,274.96 287.93,274.74 288.42,274.43 288.91,274.56 289.4,274.76 289.89,275.04 290.38,274.67 290.87,274.83 291.36,275.28 291.86,274.44 292.35,274.3 292.84,274.96 293.33,274.8 293.82,274.63 294.31,274.73 294.8,274.55 295.29,274.8 295.79,274.54 296.28,274.88 296.77,274.29 297.26,274.39 297.75,274.66 298.24,274.48 298.73,274.83 299.22,274.6 299.72,274.45 300.21,274.67 300.7,274.45 301.19,274.13 301.68,274.26 302.17,274.35 302.66,274.45 303.15,274.62 303.65,274.86 304.14,274.74 304.63,275.11 305.12,274.95 305.61,274.51 306.1,275.06 306.59,274.91 307.08,274.42 307.58,274.65 308.07,274.88 308.56,274.62 309.05,274.85 309.54,274.66 310.03,274.74 310.52,274.43 311.01,274.64 311.51,274.41 312,274.72 312.49,274.01 312.98,274.61 313.47,274.88 313.96,274.68 314.45,274.49 314.94,274.66 315.44,274.24 315.93,274.24 316.42,274.38 316.91,274.43 317.4,274.76 317.89,274.2 318.38,274.77 318.87,273.99 319.37,274.22 319.86,274.44 320.35,274.8 320.84,274.26 321.33,273.8 321.82,274.57 322.31,274.43 322.8,274.11 323.3,274.11 323.79,274.21 324.28,274.45 324.77,274.61 325.26,273.97 325.75,275.09 326.24,274.39 326.73,274.29 327.23,274.6 327.72,274.42 328.21,275.09 328.7,274.71 329.19,274.27 329.68,274.26 330.17,274.22 330.66,274.27 331.16,274.57 331.65,274.17 332.14,274.84 332.63,274.33 333.12,274.3 333.61,274.63 334.1,273.75 334.59,274.06 335.09,274.51 335.58,274.33 336.07,274.32 336.56,274.44 337.05,274.14 337.54,274.26 338.03,273.9 338.52,273.74 339.02,274.68 339.51,274.02 340,274.08 340.49,274.71 340.98,274.6 341.47,274.12 341.96,274.12 342.45,274.25 342.94,273.98 343.44,274.43 343.93,274.3 344.42,274.3 344.91,274.48 345.4,274.46 345.89,274.8 346.38,274.7 346.87,273.72 347.37,274.5 347.86,273.89 348.35,273.8 348.84,274.43 349.33,274.01 349.82,274.12 350.31,274.53 350.8,274.01 351.3,273.94 351.79,274.3 352.28,274.56 352.77,274.35 353.26,273.73 353.75,273.99 354.24,274.14 354.73,274.76 355.23,274.45 355.72,274.43 356.21,274.54 356.7,274.08 357.19,274.31 357.68,274.31 358.17,273.87 358.66,274.15 359.16,274.33 359.65,273.83 360.14,274.39 360.63,274.38 361.12,274.45 361.61,273.91 362.1,274.17 362.59,274.57 363.09,274.37 363.58,273.89 364.07,274.19 364.56,274.55 365.05,274.1 365.54,274.23 366.03,274.89 366.52,274.1 367.02,274.08 367.51,273.8 368,273.91 368.49,274.55 368.98,274.05 369.47,273.74 369.96,273.81 370.45,274.09 370.95,274.31 371.44,273.86 371.93,274.29 372.42,273.93 372.91,274.18 373.4,274.22 373.89,274.25 374.38,273.93 374.88,274.01 375.37,274.21 375.86,273.66 376.35,274.1 376.84,274.2 377.33,274.35 377.82,274.03 378.31,273.98 378.81,274.07 379.3,273.81 379.79,273.96 380.28,274.14 380.77,274.1 381.26,273.7 381.75,273.91 382.24,273.37 382.74,274.24 383.23,273.84 383.72,274.07 384.21,273.66 384.7,273.97 385.19,274.12 385.68,274.28 386.17,273.57 386.67,274.23 387.16,273.92 387.65,273.74 388.14,274.11 388.63,273.88 389.12,273.87 389.61,273.75 390.1,274.02 390.6,273.96 391.09,273.9 391.58,273.66 392.07,273.79 392.56,274.06 393.05,274.32 393.54,273.92 394.03,274.35 394.53,273.92 395.02,273.6 395.51,274.11 396,273.63 396.49,274.04 396.98,274.23 397.47,273.82 397.96,273.88 398.45,274.64 398.95,273.97 399.44,273.98 399.93,274.13 400.42,273.86 400.91,273.86 401.4,274 401.89,273.17 402.38,274.31 402.88,273.56 403.37,273.56 403.86,274.04 404.35,273.89 404.84,273.5 405.33,273.94 405.82,273.53 406.31,273.66 406.81,273.42 407.3,273.62 407.79,273.98 408.28,273.9 408.77,273.95 409.26,274.14 409.75,273.84 410.24,273.66 410.74,273.77 411.23,274.35 411.72,273.86 412.21,273.94 412.7,273.82 413.19,273.92 413.68,273.97 414.17,273.84 414.67,273.79 415.16,273.6 415.65,273.58 416.14,273.95 416.63,274.05 417.12,274.11 417.61,273.84 418.1,273.58 418.6,274.01 419.09,274.01 419.58,273.37 420.07,274.06 420.56,273.99 421.05,274.31 421.54,273.47 422.03,273.43 422.53,274.04 423.02,273.27 423.51,273.59 424,273.48 424.49,273.5 424.98,273.23 425.47,273.73 425.96,274.09 426.46,273.93 426.95,273.93 427.44,273.68 427.93,274.22 428.42,273.94 428.91,274.1 429.4,273.32 429.89,273.88 430.39,273.44 430.88,273.88 431.37,273.84 431.86,273.44 432.35,273.83 432.84,274.12 433.33,273.92 433.82,273.95 434.32,273.51 434.81,273.56 435.3,273.43 435.79,273.8 436.28,274.12 436.77,273.89 437.26,273.76 437.75,273.42 438.25,273.89 438.74,273.68 439.23,273.18 439.72,273.23 440.21,273.64 440.7,273.48 441.19,274.24 441.68,273.75 442.18,273.43 442.67,273.59 443.16,274.21 443.65,273.45 444.14,273.96 444.63,273.86 445.12,274.17 445.61,273.88 446.11,273.6 446.6,273.88 447.09,273.74 447.58,274.01 448.07,273.7 448.56,274.31 449.05,273.68 449.54,273.84 450.04,273.51 450.53,273.75 451.02,273.71 451.51,273.76 452,273.97" fill="none" stroke="#ff0000" stroke-width="6.5" stroke-linejoin="round" stroke-linecap="round" />
<circle cx="59.7" cy="243.4" r="2.9" fill="#ff0000"/>
<circle cx="59.7" cy="248.9" r="2.9" fill="#ff0000"/>
<circle cx="59.5" cy="256.5" r="2.9" fill="#ff0000"/>
</g>
<rect x="58.15" y="192.8" width="394.45" height="139" fill="none" stroke="#000" stroke-width="1.3"/>
<line x1="53.15" y1="311.5" x2="58.15" y2="311.5" stroke="#000" stroke-width="1.2"/>
<text x="50.1" y="314.8" font-size="10.4" text-anchor="end" >0</text>
<line x1="55.65" y1="291.67" x2="58.15" y2="291.67" stroke="#000" stroke-width="1.2"/>
<line x1="53.15" y1="271.83" x2="58.15" y2="271.83" stroke="#000" stroke-width="1.2"/>
<text x="50.1" y="275.13" font-size="10.4" text-anchor="end" >200</text>
<line x1="55.65" y1="252" x2="58.15" y2="252" stroke="#000" stroke-width="1.2"/>
<line x1="53.15" y1="232.17" x2="58.15" y2="232.17" stroke="#000" stroke-width="1.2"/>
<text x="50.1" y="235.47" font-size="10.4" text-anchor="end" >400</text>
<line x1="55.65" y1="212.33" x2="58.15" y2="212.33" stroke="#000" stroke-width="1.2"/>
<line x1="53.15" y1="192.5" x2="58.15" y2="192.5" stroke="#000" stroke-width="1.2"/>
<text x="50.1" y="195.8" font-size="10.4" text-anchor="end" >600</text>
<line x1="452.6" y1="331.8" x2="456.6" y2="331.8" stroke="#000" stroke-width="1.2"/>
<text x="460.6" y="335.1" font-size="10.2" text-anchor="start" >0</text>
<line x1="452.6" y1="320.19" x2="455.1" y2="320.19" stroke="#000" stroke-width="1.2"/>
<line x1="452.6" y1="308.58" x2="456.6" y2="308.58" stroke="#000" stroke-width="1.2"/>
<text x="460.6" y="311.88" font-size="10.2" text-anchor="start" >20</text>
<line x1="452.6" y1="296.98" x2="455.1" y2="296.98" stroke="#000" stroke-width="1.2"/>
<line x1="452.6" y1="285.37" x2="456.6" y2="285.37" stroke="#000" stroke-width="1.2"/>
<text x="460.6" y="288.67" font-size="10.2" text-anchor="start" >40</text>
<line x1="452.6" y1="273.76" x2="455.1" y2="273.76" stroke="#000" stroke-width="1.2"/>
<line x1="452.6" y1="262.15" x2="456.6" y2="262.15" stroke="#000" stroke-width="1.2"/>
<text x="460.6" y="265.45" font-size="10.2" text-anchor="start" >60</text>
<line x1="452.6" y1="250.54" x2="455.1" y2="250.54" stroke="#000" stroke-width="1.2"/>
<line x1="452.6" y1="238.94" x2="456.6" y2="238.94" stroke="#000" stroke-width="1.2"/>
<text x="460.6" y="242.24" font-size="10.2" text-anchor="start" >80</text>
<line x1="452.6" y1="227.33" x2="455.1" y2="227.33" stroke="#000" stroke-width="1.2"/>
<line x1="452.6" y1="215.72" x2="456.6" y2="215.72" stroke="#000" stroke-width="1.2"/>
<text x="460.6" y="219.02" font-size="10.2" text-anchor="start" >100</text>
<line x1="452.6" y1="204.11" x2="455.1" y2="204.11" stroke="#000" stroke-width="1.2"/>
<line x1="452.6" y1="192.5" x2="456.6" y2="192.5" stroke="#000" stroke-width="1.2"/>
<text x="460.6" y="195.8" font-size="10.2" text-anchor="start" >120</text>
<line x1="58.3" y1="331.8" x2="58.3" y2="336.8" stroke="#000" stroke-width="1.2"/>
<text x="58.3" y="348.3" font-size="10.2" text-anchor="middle" >0</text>
<line x1="97.77" y1="331.8" x2="97.77" y2="334.8" stroke="#000" stroke-width="1.2"/>
<line x1="137.24" y1="331.8" x2="137.24" y2="336.8" stroke="#000" stroke-width="1.2"/>
<text x="137.24" y="348.3" font-size="10.2" text-anchor="middle" >200</text>
<line x1="176.71" y1="331.8" x2="176.71" y2="334.8" stroke="#000" stroke-width="1.2"/>
<line x1="216.18" y1="331.8" x2="216.18" y2="336.8" stroke="#000" stroke-width="1.2"/>
<text x="216.18" y="348.3" font-size="10.2" text-anchor="middle" >400</text>
<line x1="255.65" y1="331.8" x2="255.65" y2="334.8" stroke="#000" stroke-width="1.2"/>
<line x1="295.12" y1="331.8" x2="295.12" y2="336.8" stroke="#000" stroke-width="1.2"/>
<text x="295.12" y="348.3" font-size="10.2" text-anchor="middle" >600</text>
<line x1="334.59" y1="331.8" x2="334.59" y2="334.8" stroke="#000" stroke-width="1.2"/>
<line x1="374.06" y1="331.8" x2="374.06" y2="336.8" stroke="#000" stroke-width="1.2"/>
<text x="374.06" y="348.3" font-size="10.2" text-anchor="middle" >800</text>
<line x1="413.53" y1="331.8" x2="413.53" y2="334.8" stroke="#000" stroke-width="1.2"/>
<line x1="453" y1="331.8" x2="453" y2="336.8" stroke="#000" stroke-width="1.2"/>
<text x="453" y="348.3" font-size="10.2" text-anchor="middle" >1000</text>
<text x="255.5" y="363.4" font-size="13" text-anchor="middle" textLength="85.8" lengthAdjust="spacingAndGlyphs" >Cycle Number</text>
<text transform="translate(28.4,315.7) rotate(-90)" font-size="12" textLength="104" lengthAdjust="spacingAndGlyphs">Capacity (mAhg<tspan font-size="6.8" dy="-8">-1</tspan><tspan dy="8">)</tspan></text>
<text transform="translate(492.0,333.4) rotate(-90)" font-size="12.4" textLength="139" lengthAdjust="spacingAndGlyphs">Coulombic efficiency(%)</text>
<text transform="translate(63.0,211.5) scale(0.84,1)" font-size="21.5" style="stroke-width:0.7px">c</text>
<line x1="216.4" y1="226.9" x2="284" y2="226.9" stroke="#000" stroke-width="2.0"/>
<path d="M292,226.9 L281,223.5 L282.2,226.9 L281,230.3 Z" fill="#000"/>
<line x1="289.4" y1="263.4" x2="222.3" y2="263.4" stroke="#000" stroke-width="2.0"/>
<path d="M214.3,263.4 L225.3,260 L224.1,263.4 L225.3,266.8 Z" fill="#000"/>
</svg>
</body></html>
